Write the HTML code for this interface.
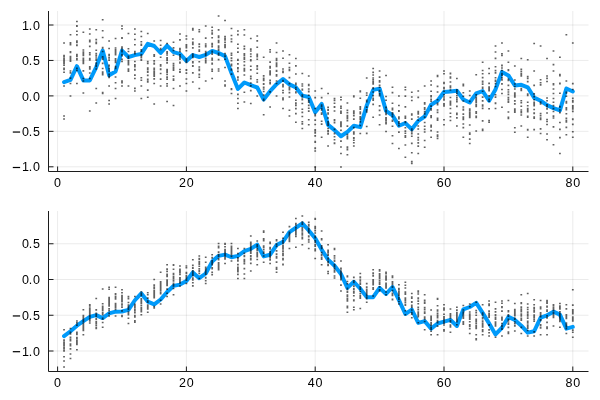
<!DOCTYPE html>
<html><head><meta charset="utf-8"><style>
html,body{margin:0;padding:0;background:#fff;width:600px;height:400px;overflow:hidden}
svg{display:block;will-change:transform}
text{font-family:"Liberation Sans",sans-serif;font-size:12.5px;fill:#000}
</style></head><body>
<svg width="600" height="400" viewBox="0 0 600 400">
<rect width="600" height="400" fill="#fff"/>
<path d="M57.60 11V171.5 M186.40 11V171.5 M315.20 11V171.5 M444.00 11V171.5 M572.80 11V171.5 M48.5 25.00H588.5 M48.5 60.45H588.5 M48.5 95.90H588.5 M48.5 131.35H588.5 M48.5 166.80H588.5" stroke="#000" stroke-opacity="0.1" stroke-width="0.8" fill="none"/>
<polyline points="64.04,82.20 70.48,79.90 76.92,66.20 83.36,80.40 89.80,80.40 96.24,67.10 102.68,50.60 109.12,75.20 115.56,71.50 122.00,50.60 128.44,57.00 134.88,55.10 141.32,53.90 147.76,43.90 154.20,46.00 160.64,53.00 167.08,45.65 173.52,52.10 179.96,53.90 186.40,60.90 192.84,55.10 199.28,57.00 205.72,54.90 212.16,50.90 218.60,53.00 225.04,56.15 231.48,73.10 237.92,88.90 244.36,82.50 250.80,85.20 257.24,87.50 263.68,99.60 270.12,91.20 276.56,84.20 283.00,79.00 289.44,84.40 295.88,87.40 302.32,95.60 308.76,97.00 315.20,112.20 321.64,103.90 328.08,124.90 334.52,130.10 340.96,136.25 347.40,131.90 353.84,125.75 360.28,127.15 366.72,105.60 373.16,89.90 379.60,88.65 386.04,110.90 392.48,115.25 398.92,125.75 405.36,123.10 411.80,129.25 418.24,120.85 424.68,116.50 431.12,104.75 437.56,100.70 444.00,92.00 450.44,91.40 456.88,90.70 463.32,99.50 469.76,102.50 476.20,93.40 482.64,91.10 489.08,100.75 495.52,89.40 501.96,71.90 508.40,75.40 514.84,85.50 521.28,84.80 527.72,87.30 534.16,97.60 540.60,100.75 547.04,105.10 553.48,108.10 559.92,110.40 566.36,88.50 572.80,91.50" fill="none" stroke="#009afa" stroke-width="4" stroke-linejoin="round" stroke-linecap="round"/>
<path d="M63.14 42.20h1.8v1.6h-1.8zM63.14 85.20h1.8v1.6h-1.8zM63.14 115.20h1.8v1.6h-1.8zM63.14 118.20h1.8v1.6h-1.8zM63.14 62.43h1.8v1.6h-1.8zM63.14 64.43h1.8v1.6h-1.8zM63.14 67.62h1.8v1.6h-1.8zM63.14 56.02h1.8v1.6h-1.8zM63.14 59.15h1.8v1.6h-1.8zM63.14 68.64h1.8v1.6h-1.8zM63.14 58.13h1.8v1.6h-1.8zM63.14 61.25h1.8v1.6h-1.8zM63.14 71.45h1.8v1.6h-1.8zM63.14 71.38h1.8v1.6h-1.8zM63.14 57.84h1.8v1.6h-1.8zM63.14 61.29h1.8v1.6h-1.8zM63.14 54.64h1.8v1.6h-1.8zM63.14 60.55h1.8v1.6h-1.8zM63.14 68.03h1.8v1.6h-1.8zM63.14 62.53h1.8v1.6h-1.8zM69.58 33.95h1.8v1.6h-1.8zM69.58 82.70h1.8v1.6h-1.8zM69.58 95.20h1.8v1.6h-1.8zM69.58 70.18h1.8v1.6h-1.8zM69.58 56.72h1.8v1.6h-1.8zM69.58 51.75h1.8v1.6h-1.8zM69.58 58.16h1.8v1.6h-1.8zM69.58 56.87h1.8v1.6h-1.8zM69.58 50.93h1.8v1.6h-1.8zM69.58 56.95h1.8v1.6h-1.8zM69.58 60.45h1.8v1.6h-1.8zM69.58 42.12h1.8v1.6h-1.8zM69.58 82.70h1.8v1.6h-1.8zM69.58 77.33h1.8v1.6h-1.8zM69.58 55.78h1.8v1.6h-1.8zM69.58 82.70h1.8v1.6h-1.8zM69.58 58.92h1.8v1.6h-1.8zM69.58 72.03h1.8v1.6h-1.8zM69.58 43.87h1.8v1.6h-1.8zM76.02 20.70h1.8v1.6h-1.8zM76.02 82.70h1.8v1.6h-1.8zM76.02 54.62h1.8v1.6h-1.8zM76.02 57.79h1.8v1.6h-1.8zM76.02 25.29h1.8v1.6h-1.8zM76.02 67.42h1.8v1.6h-1.8zM76.02 30.43h1.8v1.6h-1.8zM76.02 40.34h1.8v1.6h-1.8zM76.02 53.66h1.8v1.6h-1.8zM76.02 69.57h1.8v1.6h-1.8zM76.02 44.74h1.8v1.6h-1.8zM76.02 25.04h1.8v1.6h-1.8zM76.02 55.47h1.8v1.6h-1.8zM76.02 41.65h1.8v1.6h-1.8zM76.02 58.91h1.8v1.6h-1.8zM76.02 44.33h1.8v1.6h-1.8zM76.02 57.72h1.8v1.6h-1.8zM76.02 33.90h1.8v1.6h-1.8zM82.46 31.45h1.8v1.6h-1.8zM82.46 80.20h1.8v1.6h-1.8zM82.46 92.20h1.8v1.6h-1.8zM82.46 61.90h1.8v1.6h-1.8zM82.46 70.05h1.8v1.6h-1.8zM82.46 31.45h1.8v1.6h-1.8zM82.46 52.47h1.8v1.6h-1.8zM82.46 62.54h1.8v1.6h-1.8zM82.46 57.62h1.8v1.6h-1.8zM82.46 77.64h1.8v1.6h-1.8zM82.46 53.53h1.8v1.6h-1.8zM82.46 60.74h1.8v1.6h-1.8zM82.46 62.61h1.8v1.6h-1.8zM82.46 49.25h1.8v1.6h-1.8zM82.46 54.17h1.8v1.6h-1.8zM82.46 54.17h1.8v1.6h-1.8zM82.46 59.13h1.8v1.6h-1.8zM82.46 54.71h1.8v1.6h-1.8zM82.46 51.27h1.8v1.6h-1.8zM88.90 28.20h1.8v1.6h-1.8zM88.90 77.70h1.8v1.6h-1.8zM88.90 110.20h1.8v1.6h-1.8zM88.90 77.70h1.8v1.6h-1.8zM88.90 52.05h1.8v1.6h-1.8zM88.90 57.85h1.8v1.6h-1.8zM88.90 33.27h1.8v1.6h-1.8zM88.90 40.98h1.8v1.6h-1.8zM88.90 66.07h1.8v1.6h-1.8zM88.90 53.90h1.8v1.6h-1.8zM88.90 39.49h1.8v1.6h-1.8zM88.90 68.26h1.8v1.6h-1.8zM88.90 59.18h1.8v1.6h-1.8zM88.90 45.54h1.8v1.6h-1.8zM88.90 67.33h1.8v1.6h-1.8zM88.90 28.20h1.8v1.6h-1.8zM88.90 66.83h1.8v1.6h-1.8zM88.90 58.99h1.8v1.6h-1.8zM88.90 72.20h1.8v1.6h-1.8zM95.34 28.95h1.8v1.6h-1.8zM95.34 87.70h1.8v1.6h-1.8zM95.34 102.20h1.8v1.6h-1.8zM95.34 52.66h1.8v1.6h-1.8zM95.34 41.41h1.8v1.6h-1.8zM95.34 65.68h1.8v1.6h-1.8zM95.34 62.37h1.8v1.6h-1.8zM95.34 68.24h1.8v1.6h-1.8zM95.34 56.26h1.8v1.6h-1.8zM95.34 64.29h1.8v1.6h-1.8zM95.34 68.20h1.8v1.6h-1.8zM95.34 41.85h1.8v1.6h-1.8zM95.34 54.41h1.8v1.6h-1.8zM95.34 59.44h1.8v1.6h-1.8zM95.34 58.35h1.8v1.6h-1.8zM95.34 49.38h1.8v1.6h-1.8zM95.34 58.55h1.8v1.6h-1.8zM95.34 38.79h1.8v1.6h-1.8zM95.34 42.67h1.8v1.6h-1.8zM101.78 18.95h1.8v1.6h-1.8zM101.78 92.70h1.8v1.6h-1.8zM101.78 72.99h1.8v1.6h-1.8zM101.78 67.63h1.8v1.6h-1.8zM101.78 30.02h1.8v1.6h-1.8zM101.78 73.09h1.8v1.6h-1.8zM101.78 73.33h1.8v1.6h-1.8zM101.78 50.72h1.8v1.6h-1.8zM101.78 57.35h1.8v1.6h-1.8zM101.78 91.84h1.8v1.6h-1.8zM101.78 71.32h1.8v1.6h-1.8zM101.78 58.51h1.8v1.6h-1.8zM101.78 47.15h1.8v1.6h-1.8zM101.78 62.58h1.8v1.6h-1.8zM101.78 46.78h1.8v1.6h-1.8zM101.78 36.63h1.8v1.6h-1.8zM101.78 55.95h1.8v1.6h-1.8zM101.78 73.96h1.8v1.6h-1.8zM108.22 40.20h1.8v1.6h-1.8zM108.22 85.20h1.8v1.6h-1.8zM108.22 99.70h1.8v1.6h-1.8zM108.22 103.20h1.8v1.6h-1.8zM108.22 59.31h1.8v1.6h-1.8zM108.22 53.83h1.8v1.6h-1.8zM108.22 73.54h1.8v1.6h-1.8zM108.22 67.61h1.8v1.6h-1.8zM108.22 67.75h1.8v1.6h-1.8zM108.22 76.75h1.8v1.6h-1.8zM108.22 64.42h1.8v1.6h-1.8zM108.22 68.21h1.8v1.6h-1.8zM108.22 70.24h1.8v1.6h-1.8zM108.22 56.77h1.8v1.6h-1.8zM108.22 59.20h1.8v1.6h-1.8zM108.22 75.55h1.8v1.6h-1.8zM108.22 57.14h1.8v1.6h-1.8zM108.22 47.72h1.8v1.6h-1.8zM108.22 65.19h1.8v1.6h-1.8zM108.22 54.77h1.8v1.6h-1.8zM114.66 37.70h1.8v1.6h-1.8zM114.66 87.70h1.8v1.6h-1.8zM114.66 97.70h1.8v1.6h-1.8zM114.66 52.55h1.8v1.6h-1.8zM114.66 67.72h1.8v1.6h-1.8zM114.66 47.23h1.8v1.6h-1.8zM114.66 61.07h1.8v1.6h-1.8zM114.66 59.63h1.8v1.6h-1.8zM114.66 59.46h1.8v1.6h-1.8zM114.66 49.80h1.8v1.6h-1.8zM114.66 76.23h1.8v1.6h-1.8zM114.66 81.93h1.8v1.6h-1.8zM114.66 67.04h1.8v1.6h-1.8zM114.66 57.97h1.8v1.6h-1.8zM114.66 51.60h1.8v1.6h-1.8zM114.66 53.84h1.8v1.6h-1.8zM114.66 65.63h1.8v1.6h-1.8zM114.66 61.61h1.8v1.6h-1.8zM114.66 49.12h1.8v1.6h-1.8zM121.10 25.20h1.8v1.6h-1.8zM121.10 85.20h1.8v1.6h-1.8zM121.10 54.87h1.8v1.6h-1.8zM121.10 58.67h1.8v1.6h-1.8zM121.10 37.10h1.8v1.6h-1.8zM121.10 81.81h1.8v1.6h-1.8zM121.10 46.24h1.8v1.6h-1.8zM121.10 37.29h1.8v1.6h-1.8zM121.10 58.46h1.8v1.6h-1.8zM121.10 53.76h1.8v1.6h-1.8zM121.10 47.83h1.8v1.6h-1.8zM121.10 49.67h1.8v1.6h-1.8zM121.10 47.98h1.8v1.6h-1.8zM121.10 60.66h1.8v1.6h-1.8zM121.10 37.26h1.8v1.6h-1.8zM121.10 80.17h1.8v1.6h-1.8zM121.10 50.94h1.8v1.6h-1.8zM121.10 27.88h1.8v1.6h-1.8zM127.54 32.70h1.8v1.6h-1.8zM127.54 85.20h1.8v1.6h-1.8zM127.54 68.36h1.8v1.6h-1.8zM127.54 63.78h1.8v1.6h-1.8zM127.54 59.72h1.8v1.6h-1.8zM127.54 55.44h1.8v1.6h-1.8zM127.54 60.86h1.8v1.6h-1.8zM127.54 63.75h1.8v1.6h-1.8zM127.54 62.69h1.8v1.6h-1.8zM127.54 50.67h1.8v1.6h-1.8zM127.54 57.09h1.8v1.6h-1.8zM127.54 59.91h1.8v1.6h-1.8zM127.54 70.30h1.8v1.6h-1.8zM127.54 68.79h1.8v1.6h-1.8zM127.54 61.88h1.8v1.6h-1.8zM127.54 47.92h1.8v1.6h-1.8zM127.54 57.43h1.8v1.6h-1.8zM127.54 62.22h1.8v1.6h-1.8zM133.98 28.20h1.8v1.6h-1.8zM133.98 90.20h1.8v1.6h-1.8zM133.98 65.98h1.8v1.6h-1.8zM133.98 64.10h1.8v1.6h-1.8zM133.98 64.40h1.8v1.6h-1.8zM133.98 77.66h1.8v1.6h-1.8zM133.98 33.46h1.8v1.6h-1.8zM133.98 90.20h1.8v1.6h-1.8zM133.98 53.02h1.8v1.6h-1.8zM133.98 87.61h1.8v1.6h-1.8zM133.98 74.36h1.8v1.6h-1.8zM133.98 69.06h1.8v1.6h-1.8zM133.98 38.63h1.8v1.6h-1.8zM133.98 52.59h1.8v1.6h-1.8zM133.98 44.01h1.8v1.6h-1.8zM133.98 68.82h1.8v1.6h-1.8zM133.98 60.67h1.8v1.6h-1.8zM133.98 50.86h1.8v1.6h-1.8zM140.42 30.70h1.8v1.6h-1.8zM140.42 85.20h1.8v1.6h-1.8zM140.42 97.70h1.8v1.6h-1.8zM140.42 41.01h1.8v1.6h-1.8zM140.42 54.54h1.8v1.6h-1.8zM140.42 59.49h1.8v1.6h-1.8zM140.42 50.34h1.8v1.6h-1.8zM140.42 55.46h1.8v1.6h-1.8zM140.42 59.43h1.8v1.6h-1.8zM140.42 44.31h1.8v1.6h-1.8zM140.42 35.68h1.8v1.6h-1.8zM140.42 43.49h1.8v1.6h-1.8zM140.42 76.96h1.8v1.6h-1.8zM140.42 56.64h1.8v1.6h-1.8zM140.42 55.93h1.8v1.6h-1.8zM140.42 54.05h1.8v1.6h-1.8zM140.42 58.69h1.8v1.6h-1.8zM140.42 48.93h1.8v1.6h-1.8zM140.42 79.44h1.8v1.6h-1.8zM146.86 32.70h1.8v1.6h-1.8zM146.86 96.45h1.8v1.6h-1.8zM146.86 78.39h1.8v1.6h-1.8zM146.86 78.47h1.8v1.6h-1.8zM146.86 71.44h1.8v1.6h-1.8zM146.86 67.13h1.8v1.6h-1.8zM146.86 71.10h1.8v1.6h-1.8zM146.86 62.55h1.8v1.6h-1.8zM146.86 81.10h1.8v1.6h-1.8zM146.86 96.45h1.8v1.6h-1.8zM146.86 60.74h1.8v1.6h-1.8zM146.86 74.46h1.8v1.6h-1.8zM146.86 79.25h1.8v1.6h-1.8zM146.86 74.74h1.8v1.6h-1.8zM146.86 74.55h1.8v1.6h-1.8zM146.86 68.44h1.8v1.6h-1.8zM146.86 68.95h1.8v1.6h-1.8zM146.86 89.29h1.8v1.6h-1.8zM153.30 40.20h1.8v1.6h-1.8zM153.30 82.70h1.8v1.6h-1.8zM153.30 103.20h1.8v1.6h-1.8zM153.30 68.52h1.8v1.6h-1.8zM153.30 72.93h1.8v1.6h-1.8zM153.30 63.13h1.8v1.6h-1.8zM153.30 82.70h1.8v1.6h-1.8zM153.30 82.70h1.8v1.6h-1.8zM153.30 60.10h1.8v1.6h-1.8zM153.30 71.85h1.8v1.6h-1.8zM153.30 53.90h1.8v1.6h-1.8zM153.30 74.57h1.8v1.6h-1.8zM153.30 55.36h1.8v1.6h-1.8zM153.30 70.31h1.8v1.6h-1.8zM153.30 75.29h1.8v1.6h-1.8zM153.30 62.46h1.8v1.6h-1.8zM153.30 60.05h1.8v1.6h-1.8zM153.30 67.46h1.8v1.6h-1.8zM153.30 78.12h1.8v1.6h-1.8zM159.74 39.70h1.8v1.6h-1.8zM159.74 85.20h1.8v1.6h-1.8zM159.74 64.02h1.8v1.6h-1.8zM159.74 48.65h1.8v1.6h-1.8zM159.74 68.57h1.8v1.6h-1.8zM159.74 68.36h1.8v1.6h-1.8zM159.74 65.18h1.8v1.6h-1.8zM159.74 85.20h1.8v1.6h-1.8zM159.74 64.06h1.8v1.6h-1.8zM159.74 72.74h1.8v1.6h-1.8zM159.74 56.48h1.8v1.6h-1.8zM159.74 47.63h1.8v1.6h-1.8zM159.74 47.92h1.8v1.6h-1.8zM159.74 56.47h1.8v1.6h-1.8zM159.74 78.32h1.8v1.6h-1.8zM159.74 44.45h1.8v1.6h-1.8zM159.74 64.53h1.8v1.6h-1.8zM159.74 64.14h1.8v1.6h-1.8zM166.18 42.70h1.8v1.6h-1.8zM166.18 85.20h1.8v1.6h-1.8zM166.18 100.70h1.8v1.6h-1.8zM166.18 82.97h1.8v1.6h-1.8zM166.18 52.47h1.8v1.6h-1.8zM166.18 57.05h1.8v1.6h-1.8zM166.18 71.49h1.8v1.6h-1.8zM166.18 59.74h1.8v1.6h-1.8zM166.18 54.24h1.8v1.6h-1.8zM166.18 69.82h1.8v1.6h-1.8zM166.18 68.87h1.8v1.6h-1.8zM166.18 59.62h1.8v1.6h-1.8zM166.18 76.29h1.8v1.6h-1.8zM166.18 71.71h1.8v1.6h-1.8zM166.18 78.33h1.8v1.6h-1.8zM166.18 73.75h1.8v1.6h-1.8zM166.18 62.07h1.8v1.6h-1.8zM166.18 50.94h1.8v1.6h-1.8zM166.18 57.80h1.8v1.6h-1.8zM172.62 41.45h1.8v1.6h-1.8zM172.62 87.70h1.8v1.6h-1.8zM172.62 104.70h1.8v1.6h-1.8zM172.62 69.18h1.8v1.6h-1.8zM172.62 49.76h1.8v1.6h-1.8zM172.62 47.09h1.8v1.6h-1.8zM172.62 62.75h1.8v1.6h-1.8zM172.62 87.70h1.8v1.6h-1.8zM172.62 68.46h1.8v1.6h-1.8zM172.62 78.20h1.8v1.6h-1.8zM172.62 54.50h1.8v1.6h-1.8zM172.62 69.20h1.8v1.6h-1.8zM172.62 79.30h1.8v1.6h-1.8zM172.62 75.49h1.8v1.6h-1.8zM172.62 66.52h1.8v1.6h-1.8zM172.62 67.63h1.8v1.6h-1.8zM172.62 78.38h1.8v1.6h-1.8zM172.62 64.56h1.8v1.6h-1.8zM172.62 69.42h1.8v1.6h-1.8zM179.06 33.20h1.8v1.6h-1.8zM179.06 85.20h1.8v1.6h-1.8zM179.06 61.76h1.8v1.6h-1.8zM179.06 50.14h1.8v1.6h-1.8zM179.06 57.10h1.8v1.6h-1.8zM179.06 58.37h1.8v1.6h-1.8zM179.06 39.07h1.8v1.6h-1.8zM179.06 50.72h1.8v1.6h-1.8zM179.06 61.61h1.8v1.6h-1.8zM179.06 48.42h1.8v1.6h-1.8zM179.06 70.95h1.8v1.6h-1.8zM179.06 71.46h1.8v1.6h-1.8zM179.06 55.67h1.8v1.6h-1.8zM179.06 68.73h1.8v1.6h-1.8zM179.06 62.27h1.8v1.6h-1.8zM179.06 71.19h1.8v1.6h-1.8zM179.06 54.02h1.8v1.6h-1.8zM179.06 47.78h1.8v1.6h-1.8zM185.50 35.20h1.8v1.6h-1.8zM185.50 90.20h1.8v1.6h-1.8zM185.50 49.90h1.8v1.6h-1.8zM185.50 45.89h1.8v1.6h-1.8zM185.50 69.00h1.8v1.6h-1.8zM185.50 46.88h1.8v1.6h-1.8zM185.50 78.14h1.8v1.6h-1.8zM185.50 61.76h1.8v1.6h-1.8zM185.50 44.03h1.8v1.6h-1.8zM185.50 58.26h1.8v1.6h-1.8zM185.50 82.75h1.8v1.6h-1.8zM185.50 59.05h1.8v1.6h-1.8zM185.50 69.37h1.8v1.6h-1.8zM185.50 58.86h1.8v1.6h-1.8zM185.50 44.68h1.8v1.6h-1.8zM185.50 72.31h1.8v1.6h-1.8zM185.50 60.03h1.8v1.6h-1.8zM185.50 38.19h1.8v1.6h-1.8zM191.94 27.70h1.8v1.6h-1.8zM191.94 81.20h1.8v1.6h-1.8zM191.94 53.31h1.8v1.6h-1.8zM191.94 65.47h1.8v1.6h-1.8zM191.94 43.60h1.8v1.6h-1.8zM191.94 61.08h1.8v1.6h-1.8zM191.94 65.02h1.8v1.6h-1.8zM191.94 61.41h1.8v1.6h-1.8zM191.94 41.38h1.8v1.6h-1.8zM191.94 38.15h1.8v1.6h-1.8zM191.94 56.69h1.8v1.6h-1.8zM191.94 72.04h1.8v1.6h-1.8zM191.94 54.50h1.8v1.6h-1.8zM191.94 47.04h1.8v1.6h-1.8zM191.94 61.94h1.8v1.6h-1.8zM191.94 55.13h1.8v1.6h-1.8zM191.94 42.28h1.8v1.6h-1.8zM191.94 29.04h1.8v1.6h-1.8zM198.38 28.95h1.8v1.6h-1.8zM198.38 87.70h1.8v1.6h-1.8zM198.38 49.14h1.8v1.6h-1.8zM198.38 66.20h1.8v1.6h-1.8zM198.38 49.82h1.8v1.6h-1.8zM198.38 49.58h1.8v1.6h-1.8zM198.38 68.50h1.8v1.6h-1.8zM198.38 60.88h1.8v1.6h-1.8zM198.38 45.83h1.8v1.6h-1.8zM198.38 49.19h1.8v1.6h-1.8zM198.38 50.34h1.8v1.6h-1.8zM198.38 69.77h1.8v1.6h-1.8zM198.38 73.88h1.8v1.6h-1.8zM198.38 76.45h1.8v1.6h-1.8zM198.38 43.28h1.8v1.6h-1.8zM198.38 73.55h1.8v1.6h-1.8zM198.38 30.98h1.8v1.6h-1.8zM198.38 45.92h1.8v1.6h-1.8zM204.82 25.20h1.8v1.6h-1.8zM204.82 80.20h1.8v1.6h-1.8zM204.82 54.71h1.8v1.6h-1.8zM204.82 46.02h1.8v1.6h-1.8zM204.82 50.83h1.8v1.6h-1.8zM204.82 53.29h1.8v1.6h-1.8zM204.82 53.00h1.8v1.6h-1.8zM204.82 43.22h1.8v1.6h-1.8zM204.82 61.96h1.8v1.6h-1.8zM204.82 51.33h1.8v1.6h-1.8zM204.82 37.49h1.8v1.6h-1.8zM204.82 51.91h1.8v1.6h-1.8zM204.82 60.92h1.8v1.6h-1.8zM204.82 37.13h1.8v1.6h-1.8zM204.82 61.13h1.8v1.6h-1.8zM204.82 44.89h1.8v1.6h-1.8zM204.82 59.57h1.8v1.6h-1.8zM204.82 57.53h1.8v1.6h-1.8zM211.26 26.45h1.8v1.6h-1.8zM211.26 77.70h1.8v1.6h-1.8zM211.26 70.40h1.8v1.6h-1.8zM211.26 57.56h1.8v1.6h-1.8zM211.26 44.08h1.8v1.6h-1.8zM211.26 33.25h1.8v1.6h-1.8zM211.26 53.29h1.8v1.6h-1.8zM211.26 45.88h1.8v1.6h-1.8zM211.26 68.54h1.8v1.6h-1.8zM211.26 59.10h1.8v1.6h-1.8zM211.26 63.14h1.8v1.6h-1.8zM211.26 52.15h1.8v1.6h-1.8zM211.26 36.96h1.8v1.6h-1.8zM211.26 42.79h1.8v1.6h-1.8zM211.26 29.79h1.8v1.6h-1.8zM211.26 32.28h1.8v1.6h-1.8zM211.26 62.46h1.8v1.6h-1.8zM211.26 50.40h1.8v1.6h-1.8zM217.70 15.20h1.8v1.6h-1.8zM217.70 70.20h1.8v1.6h-1.8zM217.70 41.62h1.8v1.6h-1.8zM217.70 45.20h1.8v1.6h-1.8zM217.70 52.89h1.8v1.6h-1.8zM217.70 52.39h1.8v1.6h-1.8zM217.70 36.66h1.8v1.6h-1.8zM217.70 35.24h1.8v1.6h-1.8zM217.70 58.84h1.8v1.6h-1.8zM217.70 54.34h1.8v1.6h-1.8zM217.70 35.46h1.8v1.6h-1.8zM217.70 29.08h1.8v1.6h-1.8zM217.70 48.19h1.8v1.6h-1.8zM217.70 49.42h1.8v1.6h-1.8zM217.70 39.79h1.8v1.6h-1.8zM217.70 68.17h1.8v1.6h-1.8zM217.70 46.34h1.8v1.6h-1.8zM217.70 40.88h1.8v1.6h-1.8zM224.14 19.70h1.8v1.6h-1.8zM224.14 85.20h1.8v1.6h-1.8zM224.14 84.21h1.8v1.6h-1.8zM224.14 39.12h1.8v1.6h-1.8zM224.14 55.47h1.8v1.6h-1.8zM224.14 41.49h1.8v1.6h-1.8zM224.14 80.20h1.8v1.6h-1.8zM224.14 46.61h1.8v1.6h-1.8zM224.14 55.15h1.8v1.6h-1.8zM224.14 55.68h1.8v1.6h-1.8zM224.14 37.66h1.8v1.6h-1.8zM224.14 66.69h1.8v1.6h-1.8zM224.14 85.20h1.8v1.6h-1.8zM224.14 58.43h1.8v1.6h-1.8zM224.14 43.68h1.8v1.6h-1.8zM224.14 35.81h1.8v1.6h-1.8zM224.14 45.12h1.8v1.6h-1.8zM224.14 52.82h1.8v1.6h-1.8zM230.58 27.70h1.8v1.6h-1.8zM230.58 92.70h1.8v1.6h-1.8zM230.58 59.84h1.8v1.6h-1.8zM230.58 34.74h1.8v1.6h-1.8zM230.58 87.99h1.8v1.6h-1.8zM230.58 64.14h1.8v1.6h-1.8zM230.58 38.26h1.8v1.6h-1.8zM230.58 88.74h1.8v1.6h-1.8zM230.58 54.36h1.8v1.6h-1.8zM230.58 69.14h1.8v1.6h-1.8zM230.58 64.84h1.8v1.6h-1.8zM230.58 73.29h1.8v1.6h-1.8zM230.58 68.52h1.8v1.6h-1.8zM230.58 64.16h1.8v1.6h-1.8zM230.58 40.87h1.8v1.6h-1.8zM230.58 63.57h1.8v1.6h-1.8zM230.58 52.50h1.8v1.6h-1.8zM230.58 57.29h1.8v1.6h-1.8zM237.02 30.20h1.8v1.6h-1.8zM237.02 107.70h1.8v1.6h-1.8zM237.02 79.22h1.8v1.6h-1.8zM237.02 70.55h1.8v1.6h-1.8zM237.02 77.01h1.8v1.6h-1.8zM237.02 63.05h1.8v1.6h-1.8zM237.02 59.44h1.8v1.6h-1.8zM237.02 47.46h1.8v1.6h-1.8zM237.02 33.87h1.8v1.6h-1.8zM237.02 43.44h1.8v1.6h-1.8zM237.02 67.93h1.8v1.6h-1.8zM237.02 97.67h1.8v1.6h-1.8zM237.02 51.36h1.8v1.6h-1.8zM237.02 67.00h1.8v1.6h-1.8zM237.02 58.86h1.8v1.6h-1.8zM237.02 76.17h1.8v1.6h-1.8zM237.02 102.49h1.8v1.6h-1.8zM237.02 93.59h1.8v1.6h-1.8zM243.46 28.95h1.8v1.6h-1.8zM243.46 101.20h1.8v1.6h-1.8zM243.46 58.40h1.8v1.6h-1.8zM243.46 56.97h1.8v1.6h-1.8zM243.46 68.68h1.8v1.6h-1.8zM243.46 54.69h1.8v1.6h-1.8zM243.46 53.10h1.8v1.6h-1.8zM243.46 45.60h1.8v1.6h-1.8zM243.46 70.21h1.8v1.6h-1.8zM243.46 48.10h1.8v1.6h-1.8zM243.46 91.41h1.8v1.6h-1.8zM243.46 57.46h1.8v1.6h-1.8zM243.46 56.78h1.8v1.6h-1.8zM243.46 67.82h1.8v1.6h-1.8zM243.46 64.61h1.8v1.6h-1.8zM243.46 74.23h1.8v1.6h-1.8zM243.46 34.20h1.8v1.6h-1.8zM243.46 60.95h1.8v1.6h-1.8zM249.90 37.70h1.8v1.6h-1.8zM249.90 102.70h1.8v1.6h-1.8zM249.90 69.12h1.8v1.6h-1.8zM249.90 48.19h1.8v1.6h-1.8zM249.90 58.99h1.8v1.6h-1.8zM249.90 75.75h1.8v1.6h-1.8zM249.90 77.87h1.8v1.6h-1.8zM249.90 48.43h1.8v1.6h-1.8zM249.90 59.98h1.8v1.6h-1.8zM249.90 53.26h1.8v1.6h-1.8zM249.90 75.41h1.8v1.6h-1.8zM249.90 50.23h1.8v1.6h-1.8zM249.90 68.95h1.8v1.6h-1.8zM249.90 85.11h1.8v1.6h-1.8zM249.90 65.49h1.8v1.6h-1.8zM249.90 82.16h1.8v1.6h-1.8zM249.90 89.80h1.8v1.6h-1.8zM249.90 55.66h1.8v1.6h-1.8zM256.34 35.20h1.8v1.6h-1.8zM256.34 95.20h1.8v1.6h-1.8zM256.34 53.38h1.8v1.6h-1.8zM256.34 54.96h1.8v1.6h-1.8zM256.34 58.49h1.8v1.6h-1.8zM256.34 65.82h1.8v1.6h-1.8zM256.34 46.42h1.8v1.6h-1.8zM256.34 68.23h1.8v1.6h-1.8zM256.34 55.19h1.8v1.6h-1.8zM256.34 78.93h1.8v1.6h-1.8zM256.34 95.20h1.8v1.6h-1.8zM256.34 65.06h1.8v1.6h-1.8zM256.34 95.20h1.8v1.6h-1.8zM256.34 81.26h1.8v1.6h-1.8zM256.34 72.41h1.8v1.6h-1.8zM256.34 40.08h1.8v1.6h-1.8zM256.34 68.49h1.8v1.6h-1.8zM256.34 56.00h1.8v1.6h-1.8zM262.78 56.45h1.8v1.6h-1.8zM262.78 113.95h1.8v1.6h-1.8zM262.78 98.45h1.8v1.6h-1.8zM262.78 99.67h1.8v1.6h-1.8zM262.78 88.18h1.8v1.6h-1.8zM262.78 79.60h1.8v1.6h-1.8zM262.78 113.95h1.8v1.6h-1.8zM262.78 88.19h1.8v1.6h-1.8zM262.78 94.20h1.8v1.6h-1.8zM262.78 79.49h1.8v1.6h-1.8zM262.78 90.69h1.8v1.6h-1.8zM262.78 75.06h1.8v1.6h-1.8zM262.78 86.40h1.8v1.6h-1.8zM262.78 83.34h1.8v1.6h-1.8zM262.78 77.61h1.8v1.6h-1.8zM262.78 79.05h1.8v1.6h-1.8zM262.78 83.17h1.8v1.6h-1.8zM262.78 82.88h1.8v1.6h-1.8zM269.22 48.95h1.8v1.6h-1.8zM269.22 106.20h1.8v1.6h-1.8zM269.22 73.81h1.8v1.6h-1.8zM269.22 72.58h1.8v1.6h-1.8zM269.22 72.71h1.8v1.6h-1.8zM269.22 79.38h1.8v1.6h-1.8zM269.22 71.67h1.8v1.6h-1.8zM269.22 82.88h1.8v1.6h-1.8zM269.22 70.35h1.8v1.6h-1.8zM269.22 91.12h1.8v1.6h-1.8zM269.22 67.13h1.8v1.6h-1.8zM269.22 61.32h1.8v1.6h-1.8zM269.22 51.19h1.8v1.6h-1.8zM269.22 73.64h1.8v1.6h-1.8zM269.22 71.13h1.8v1.6h-1.8zM269.22 81.62h1.8v1.6h-1.8zM269.22 72.51h1.8v1.6h-1.8zM269.22 65.81h1.8v1.6h-1.8zM275.66 42.20h1.8v1.6h-1.8zM275.66 95.20h1.8v1.6h-1.8zM275.66 80.21h1.8v1.6h-1.8zM275.66 63.70h1.8v1.6h-1.8zM275.66 80.24h1.8v1.6h-1.8zM275.66 69.71h1.8v1.6h-1.8zM275.66 82.63h1.8v1.6h-1.8zM275.66 65.09h1.8v1.6h-1.8zM275.66 74.04h1.8v1.6h-1.8zM275.66 57.86h1.8v1.6h-1.8zM275.66 64.80h1.8v1.6h-1.8zM275.66 65.54h1.8v1.6h-1.8zM275.66 70.44h1.8v1.6h-1.8zM275.66 74.35h1.8v1.6h-1.8zM275.66 59.57h1.8v1.6h-1.8zM275.66 75.11h1.8v1.6h-1.8zM275.66 51.64h1.8v1.6h-1.8zM275.66 62.21h1.8v1.6h-1.8zM282.10 50.20h1.8v1.6h-1.8zM282.10 107.70h1.8v1.6h-1.8zM282.10 79.63h1.8v1.6h-1.8zM282.10 89.75h1.8v1.6h-1.8zM282.10 85.84h1.8v1.6h-1.8zM282.10 80.02h1.8v1.6h-1.8zM282.10 57.39h1.8v1.6h-1.8zM282.10 98.83h1.8v1.6h-1.8zM282.10 84.25h1.8v1.6h-1.8zM282.10 91.92h1.8v1.6h-1.8zM282.10 97.14h1.8v1.6h-1.8zM282.10 80.42h1.8v1.6h-1.8zM282.10 68.16h1.8v1.6h-1.8zM282.10 84.81h1.8v1.6h-1.8zM282.10 70.54h1.8v1.6h-1.8zM282.10 85.92h1.8v1.6h-1.8zM282.10 71.62h1.8v1.6h-1.8zM282.10 83.73h1.8v1.6h-1.8zM288.54 53.95h1.8v1.6h-1.8zM288.54 115.20h1.8v1.6h-1.8zM288.54 76.67h1.8v1.6h-1.8zM288.54 53.95h1.8v1.6h-1.8zM288.54 96.19h1.8v1.6h-1.8zM288.54 76.87h1.8v1.6h-1.8zM288.54 109.47h1.8v1.6h-1.8zM288.54 86.40h1.8v1.6h-1.8zM288.54 66.80h1.8v1.6h-1.8zM288.54 88.96h1.8v1.6h-1.8zM288.54 69.71h1.8v1.6h-1.8zM288.54 62.46h1.8v1.6h-1.8zM288.54 69.10h1.8v1.6h-1.8zM288.54 82.82h1.8v1.6h-1.8zM288.54 87.47h1.8v1.6h-1.8zM288.54 87.71h1.8v1.6h-1.8zM288.54 88.86h1.8v1.6h-1.8zM288.54 91.86h1.8v1.6h-1.8zM294.98 57.70h1.8v1.6h-1.8zM294.98 121.45h1.8v1.6h-1.8zM294.98 107.87h1.8v1.6h-1.8zM294.98 82.44h1.8v1.6h-1.8zM294.98 102.66h1.8v1.6h-1.8zM294.98 91.85h1.8v1.6h-1.8zM294.98 65.08h1.8v1.6h-1.8zM294.98 104.70h1.8v1.6h-1.8zM294.98 73.24h1.8v1.6h-1.8zM294.98 99.47h1.8v1.6h-1.8zM294.98 88.39h1.8v1.6h-1.8zM294.98 102.93h1.8v1.6h-1.8zM294.98 112.84h1.8v1.6h-1.8zM294.98 102.32h1.8v1.6h-1.8zM294.98 65.02h1.8v1.6h-1.8zM294.98 91.28h1.8v1.6h-1.8zM294.98 83.68h1.8v1.6h-1.8zM294.98 86.70h1.8v1.6h-1.8zM301.42 72.70h1.8v1.6h-1.8zM301.42 127.70h1.8v1.6h-1.8zM301.42 98.84h1.8v1.6h-1.8zM301.42 111.62h1.8v1.6h-1.8zM301.42 102.70h1.8v1.6h-1.8zM301.42 88.38h1.8v1.6h-1.8zM301.42 123.03h1.8v1.6h-1.8zM301.42 95.19h1.8v1.6h-1.8zM301.42 94.33h1.8v1.6h-1.8zM301.42 85.18h1.8v1.6h-1.8zM301.42 95.98h1.8v1.6h-1.8zM301.42 89.06h1.8v1.6h-1.8zM301.42 120.93h1.8v1.6h-1.8zM301.42 115.71h1.8v1.6h-1.8zM301.42 72.70h1.8v1.6h-1.8zM301.42 108.50h1.8v1.6h-1.8zM301.42 98.27h1.8v1.6h-1.8zM301.42 83.19h1.8v1.6h-1.8zM307.86 75.20h1.8v1.6h-1.8zM307.86 123.95h1.8v1.6h-1.8zM307.86 83.73h1.8v1.6h-1.8zM307.86 107.39h1.8v1.6h-1.8zM307.86 100.09h1.8v1.6h-1.8zM307.86 110.40h1.8v1.6h-1.8zM307.86 90.49h1.8v1.6h-1.8zM307.86 119.00h1.8v1.6h-1.8zM307.86 104.56h1.8v1.6h-1.8zM307.86 97.95h1.8v1.6h-1.8zM307.86 110.27h1.8v1.6h-1.8zM307.86 101.24h1.8v1.6h-1.8zM307.86 94.46h1.8v1.6h-1.8zM307.86 88.22h1.8v1.6h-1.8zM307.86 101.50h1.8v1.6h-1.8zM307.86 75.20h1.8v1.6h-1.8zM307.86 90.94h1.8v1.6h-1.8zM307.86 84.71h1.8v1.6h-1.8zM314.30 90.20h1.8v1.6h-1.8zM314.30 150.20h1.8v1.6h-1.8zM314.30 166.20h1.8v1.6h-1.8zM314.30 131.99h1.8v1.6h-1.8zM314.30 135.04h1.8v1.6h-1.8zM314.30 113.65h1.8v1.6h-1.8zM314.30 113.43h1.8v1.6h-1.8zM314.30 141.43h1.8v1.6h-1.8zM314.30 123.69h1.8v1.6h-1.8zM314.30 140.79h1.8v1.6h-1.8zM314.30 119.33h1.8v1.6h-1.8zM314.30 128.99h1.8v1.6h-1.8zM314.30 147.71h1.8v1.6h-1.8zM314.30 114.82h1.8v1.6h-1.8zM314.30 132.09h1.8v1.6h-1.8zM314.30 130.06h1.8v1.6h-1.8zM314.30 96.79h1.8v1.6h-1.8zM314.30 147.16h1.8v1.6h-1.8zM314.30 107.75h1.8v1.6h-1.8zM320.74 87.70h1.8v1.6h-1.8zM320.74 136.45h1.8v1.6h-1.8zM320.74 120.44h1.8v1.6h-1.8zM320.74 112.20h1.8v1.6h-1.8zM320.74 104.76h1.8v1.6h-1.8zM320.74 107.88h1.8v1.6h-1.8zM320.74 123.32h1.8v1.6h-1.8zM320.74 96.82h1.8v1.6h-1.8zM320.74 113.13h1.8v1.6h-1.8zM320.74 87.70h1.8v1.6h-1.8zM320.74 104.23h1.8v1.6h-1.8zM320.74 87.70h1.8v1.6h-1.8zM320.74 105.94h1.8v1.6h-1.8zM320.74 113.39h1.8v1.6h-1.8zM320.74 87.70h1.8v1.6h-1.8zM320.74 109.13h1.8v1.6h-1.8zM320.74 104.36h1.8v1.6h-1.8zM320.74 105.34h1.8v1.6h-1.8zM327.18 92.70h1.8v1.6h-1.8zM327.18 145.20h1.8v1.6h-1.8zM327.18 124.41h1.8v1.6h-1.8zM327.18 122.84h1.8v1.6h-1.8zM327.18 133.08h1.8v1.6h-1.8zM327.18 132.66h1.8v1.6h-1.8zM327.18 112.64h1.8v1.6h-1.8zM327.18 130.71h1.8v1.6h-1.8zM327.18 130.05h1.8v1.6h-1.8zM327.18 117.23h1.8v1.6h-1.8zM327.18 112.35h1.8v1.6h-1.8zM327.18 109.43h1.8v1.6h-1.8zM327.18 109.03h1.8v1.6h-1.8zM327.18 127.63h1.8v1.6h-1.8zM327.18 113.09h1.8v1.6h-1.8zM327.18 121.08h1.8v1.6h-1.8zM327.18 108.93h1.8v1.6h-1.8zM327.18 106.56h1.8v1.6h-1.8zM333.62 97.70h1.8v1.6h-1.8zM333.62 142.70h1.8v1.6h-1.8zM333.62 142.36h1.8v1.6h-1.8zM333.62 138.93h1.8v1.6h-1.8zM333.62 128.76h1.8v1.6h-1.8zM333.62 119.50h1.8v1.6h-1.8zM333.62 110.14h1.8v1.6h-1.8zM333.62 135.92h1.8v1.6h-1.8zM333.62 106.36h1.8v1.6h-1.8zM333.62 119.66h1.8v1.6h-1.8zM333.62 121.82h1.8v1.6h-1.8zM333.62 102.39h1.8v1.6h-1.8zM333.62 119.01h1.8v1.6h-1.8zM333.62 132.52h1.8v1.6h-1.8zM333.62 128.43h1.8v1.6h-1.8zM333.62 99.59h1.8v1.6h-1.8zM333.62 133.01h1.8v1.6h-1.8zM333.62 105.88h1.8v1.6h-1.8zM340.06 96.45h1.8v1.6h-1.8zM340.06 152.70h1.8v1.6h-1.8zM340.06 166.20h1.8v1.6h-1.8zM340.06 122.90h1.8v1.6h-1.8zM340.06 121.99h1.8v1.6h-1.8zM340.06 110.59h1.8v1.6h-1.8zM340.06 140.30h1.8v1.6h-1.8zM340.06 124.79h1.8v1.6h-1.8zM340.06 129.40h1.8v1.6h-1.8zM340.06 105.55h1.8v1.6h-1.8zM340.06 111.82h1.8v1.6h-1.8zM340.06 146.19h1.8v1.6h-1.8zM340.06 124.05h1.8v1.6h-1.8zM340.06 121.33h1.8v1.6h-1.8zM340.06 125.66h1.8v1.6h-1.8zM340.06 112.52h1.8v1.6h-1.8zM340.06 98.99h1.8v1.6h-1.8zM340.06 107.46h1.8v1.6h-1.8zM340.06 122.63h1.8v1.6h-1.8zM346.50 102.20h1.8v1.6h-1.8zM346.50 153.95h1.8v1.6h-1.8zM346.50 137.14h1.8v1.6h-1.8zM346.50 134.01h1.8v1.6h-1.8zM346.50 109.48h1.8v1.6h-1.8zM346.50 115.93h1.8v1.6h-1.8zM346.50 117.57h1.8v1.6h-1.8zM346.50 148.83h1.8v1.6h-1.8zM346.50 114.74h1.8v1.6h-1.8zM346.50 119.82h1.8v1.6h-1.8zM346.50 133.84h1.8v1.6h-1.8zM346.50 146.17h1.8v1.6h-1.8zM346.50 136.47h1.8v1.6h-1.8zM346.50 137.83h1.8v1.6h-1.8zM346.50 146.83h1.8v1.6h-1.8zM346.50 111.86h1.8v1.6h-1.8zM346.50 135.67h1.8v1.6h-1.8zM346.50 125.31h1.8v1.6h-1.8zM352.94 95.20h1.8v1.6h-1.8zM352.94 145.20h1.8v1.6h-1.8zM352.94 131.25h1.8v1.6h-1.8zM352.94 112.64h1.8v1.6h-1.8zM352.94 133.18h1.8v1.6h-1.8zM352.94 141.97h1.8v1.6h-1.8zM352.94 145.20h1.8v1.6h-1.8zM352.94 110.35h1.8v1.6h-1.8zM352.94 114.85h1.8v1.6h-1.8zM352.94 126.80h1.8v1.6h-1.8zM352.94 136.94h1.8v1.6h-1.8zM352.94 111.63h1.8v1.6h-1.8zM352.94 137.38h1.8v1.6h-1.8zM352.94 111.52h1.8v1.6h-1.8zM352.94 139.38h1.8v1.6h-1.8zM352.94 118.34h1.8v1.6h-1.8zM352.94 131.66h1.8v1.6h-1.8zM352.94 95.81h1.8v1.6h-1.8zM359.38 90.20h1.8v1.6h-1.8zM359.38 132.70h1.8v1.6h-1.8zM359.38 90.90h1.8v1.6h-1.8zM359.38 121.16h1.8v1.6h-1.8zM359.38 90.20h1.8v1.6h-1.8zM359.38 124.75h1.8v1.6h-1.8zM359.38 97.47h1.8v1.6h-1.8zM359.38 107.66h1.8v1.6h-1.8zM359.38 120.65h1.8v1.6h-1.8zM359.38 112.02h1.8v1.6h-1.8zM359.38 111.20h1.8v1.6h-1.8zM359.38 113.00h1.8v1.6h-1.8zM359.38 108.44h1.8v1.6h-1.8zM359.38 118.65h1.8v1.6h-1.8zM359.38 117.48h1.8v1.6h-1.8zM359.38 116.36h1.8v1.6h-1.8zM359.38 115.96h1.8v1.6h-1.8zM359.38 106.03h1.8v1.6h-1.8zM365.82 77.20h1.8v1.6h-1.8zM365.82 132.70h1.8v1.6h-1.8zM365.82 92.25h1.8v1.6h-1.8zM365.82 77.20h1.8v1.6h-1.8zM365.82 125.74h1.8v1.6h-1.8zM365.82 106.14h1.8v1.6h-1.8zM365.82 110.56h1.8v1.6h-1.8zM365.82 111.27h1.8v1.6h-1.8zM365.82 94.43h1.8v1.6h-1.8zM365.82 132.56h1.8v1.6h-1.8zM365.82 109.08h1.8v1.6h-1.8zM365.82 100.88h1.8v1.6h-1.8zM365.82 106.34h1.8v1.6h-1.8zM365.82 99.57h1.8v1.6h-1.8zM365.82 77.20h1.8v1.6h-1.8zM365.82 132.70h1.8v1.6h-1.8zM365.82 109.58h1.8v1.6h-1.8zM365.82 100.58h1.8v1.6h-1.8zM372.26 67.70h1.8v1.6h-1.8zM372.26 116.45h1.8v1.6h-1.8zM372.26 81.01h1.8v1.6h-1.8zM372.26 87.11h1.8v1.6h-1.8zM372.26 81.66h1.8v1.6h-1.8zM372.26 71.61h1.8v1.6h-1.8zM372.26 67.70h1.8v1.6h-1.8zM372.26 82.53h1.8v1.6h-1.8zM372.26 97.59h1.8v1.6h-1.8zM372.26 87.87h1.8v1.6h-1.8zM372.26 99.30h1.8v1.6h-1.8zM372.26 94.78h1.8v1.6h-1.8zM372.26 74.21h1.8v1.6h-1.8zM372.26 91.19h1.8v1.6h-1.8zM372.26 103.54h1.8v1.6h-1.8zM372.26 77.16h1.8v1.6h-1.8zM372.26 83.18h1.8v1.6h-1.8zM372.26 79.10h1.8v1.6h-1.8zM378.70 70.20h1.8v1.6h-1.8zM378.70 123.95h1.8v1.6h-1.8zM378.70 89.74h1.8v1.6h-1.8zM378.70 86.42h1.8v1.6h-1.8zM378.70 84.39h1.8v1.6h-1.8zM378.70 76.29h1.8v1.6h-1.8zM378.70 109.71h1.8v1.6h-1.8zM378.70 81.09h1.8v1.6h-1.8zM378.70 94.84h1.8v1.6h-1.8zM378.70 92.65h1.8v1.6h-1.8zM378.70 90.43h1.8v1.6h-1.8zM378.70 109.53h1.8v1.6h-1.8zM378.70 94.09h1.8v1.6h-1.8zM378.70 105.04h1.8v1.6h-1.8zM378.70 79.98h1.8v1.6h-1.8zM378.70 114.24h1.8v1.6h-1.8zM378.70 93.84h1.8v1.6h-1.8zM378.70 123.95h1.8v1.6h-1.8zM385.14 95.70h1.8v1.6h-1.8zM385.14 130.70h1.8v1.6h-1.8zM385.14 74.70h1.8v1.6h-1.8zM385.14 121.92h1.8v1.6h-1.8zM385.14 113.55h1.8v1.6h-1.8zM385.14 110.69h1.8v1.6h-1.8zM385.14 99.45h1.8v1.6h-1.8zM385.14 117.31h1.8v1.6h-1.8zM385.14 113.51h1.8v1.6h-1.8zM385.14 122.91h1.8v1.6h-1.8zM385.14 117.83h1.8v1.6h-1.8zM385.14 120.13h1.8v1.6h-1.8zM385.14 117.89h1.8v1.6h-1.8zM385.14 112.42h1.8v1.6h-1.8zM385.14 117.00h1.8v1.6h-1.8zM385.14 106.91h1.8v1.6h-1.8zM385.14 119.51h1.8v1.6h-1.8zM385.14 106.44h1.8v1.6h-1.8zM385.14 109.57h1.8v1.6h-1.8zM391.58 86.45h1.8v1.6h-1.8zM391.58 142.70h1.8v1.6h-1.8zM391.58 125.43h1.8v1.6h-1.8zM391.58 119.59h1.8v1.6h-1.8zM391.58 114.18h1.8v1.6h-1.8zM391.58 113.51h1.8v1.6h-1.8zM391.58 111.94h1.8v1.6h-1.8zM391.58 114.21h1.8v1.6h-1.8zM391.58 120.40h1.8v1.6h-1.8zM391.58 107.90h1.8v1.6h-1.8zM391.58 108.84h1.8v1.6h-1.8zM391.58 113.35h1.8v1.6h-1.8zM391.58 91.85h1.8v1.6h-1.8zM391.58 107.62h1.8v1.6h-1.8zM391.58 134.90h1.8v1.6h-1.8zM391.58 102.48h1.8v1.6h-1.8zM391.58 115.89h1.8v1.6h-1.8zM391.58 113.54h1.8v1.6h-1.8zM398.02 95.20h1.8v1.6h-1.8zM398.02 147.70h1.8v1.6h-1.8zM398.02 122.81h1.8v1.6h-1.8zM398.02 117.73h1.8v1.6h-1.8zM398.02 147.70h1.8v1.6h-1.8zM398.02 95.20h1.8v1.6h-1.8zM398.02 118.00h1.8v1.6h-1.8zM398.02 104.73h1.8v1.6h-1.8zM398.02 120.89h1.8v1.6h-1.8zM398.02 116.15h1.8v1.6h-1.8zM398.02 124.95h1.8v1.6h-1.8zM398.02 117.40h1.8v1.6h-1.8zM398.02 122.15h1.8v1.6h-1.8zM398.02 131.34h1.8v1.6h-1.8zM398.02 116.67h1.8v1.6h-1.8zM398.02 109.90h1.8v1.6h-1.8zM398.02 110.32h1.8v1.6h-1.8zM398.02 131.15h1.8v1.6h-1.8zM404.46 86.45h1.8v1.6h-1.8zM404.46 144.20h1.8v1.6h-1.8zM404.46 156.45h1.8v1.6h-1.8zM404.46 115.87h1.8v1.6h-1.8zM404.46 89.01h1.8v1.6h-1.8zM404.46 121.64h1.8v1.6h-1.8zM404.46 106.05h1.8v1.6h-1.8zM404.46 121.12h1.8v1.6h-1.8zM404.46 117.30h1.8v1.6h-1.8zM404.46 132.40h1.8v1.6h-1.8zM404.46 130.37h1.8v1.6h-1.8zM404.46 135.27h1.8v1.6h-1.8zM404.46 127.00h1.8v1.6h-1.8zM404.46 136.28h1.8v1.6h-1.8zM404.46 115.56h1.8v1.6h-1.8zM404.46 115.66h1.8v1.6h-1.8zM404.46 135.11h1.8v1.6h-1.8zM404.46 116.62h1.8v1.6h-1.8zM404.46 95.32h1.8v1.6h-1.8zM410.90 91.45h1.8v1.6h-1.8zM410.90 162.70h1.8v1.6h-1.8zM410.90 130.18h1.8v1.6h-1.8zM410.90 128.63h1.8v1.6h-1.8zM410.90 99.70h1.8v1.6h-1.8zM410.90 151.93h1.8v1.6h-1.8zM410.90 114.16h1.8v1.6h-1.8zM410.90 130.01h1.8v1.6h-1.8zM410.90 96.17h1.8v1.6h-1.8zM410.90 132.84h1.8v1.6h-1.8zM410.90 129.39h1.8v1.6h-1.8zM410.90 135.47h1.8v1.6h-1.8zM410.90 142.61h1.8v1.6h-1.8zM410.90 118.34h1.8v1.6h-1.8zM410.90 113.34h1.8v1.6h-1.8zM410.90 132.14h1.8v1.6h-1.8zM410.90 128.25h1.8v1.6h-1.8zM410.90 160.81h1.8v1.6h-1.8zM417.34 90.20h1.8v1.6h-1.8zM417.34 152.70h1.8v1.6h-1.8zM417.34 125.14h1.8v1.6h-1.8zM417.34 110.67h1.8v1.6h-1.8zM417.34 116.23h1.8v1.6h-1.8zM417.34 90.20h1.8v1.6h-1.8zM417.34 90.20h1.8v1.6h-1.8zM417.34 142.15h1.8v1.6h-1.8zM417.34 145.33h1.8v1.6h-1.8zM417.34 136.78h1.8v1.6h-1.8zM417.34 128.17h1.8v1.6h-1.8zM417.34 112.30h1.8v1.6h-1.8zM417.34 119.46h1.8v1.6h-1.8zM417.34 133.14h1.8v1.6h-1.8zM417.34 139.21h1.8v1.6h-1.8zM417.34 142.01h1.8v1.6h-1.8zM417.34 113.10h1.8v1.6h-1.8zM417.34 96.61h1.8v1.6h-1.8zM423.78 85.20h1.8v1.6h-1.8zM423.78 146.45h1.8v1.6h-1.8zM423.78 108.71h1.8v1.6h-1.8zM423.78 106.98h1.8v1.6h-1.8zM423.78 125.45h1.8v1.6h-1.8zM423.78 121.70h1.8v1.6h-1.8zM423.78 116.52h1.8v1.6h-1.8zM423.78 113.00h1.8v1.6h-1.8zM423.78 103.26h1.8v1.6h-1.8zM423.78 113.15h1.8v1.6h-1.8zM423.78 112.67h1.8v1.6h-1.8zM423.78 128.61h1.8v1.6h-1.8zM423.78 108.38h1.8v1.6h-1.8zM423.78 110.99h1.8v1.6h-1.8zM423.78 131.18h1.8v1.6h-1.8zM423.78 139.70h1.8v1.6h-1.8zM423.78 116.21h1.8v1.6h-1.8zM423.78 102.06h1.8v1.6h-1.8zM430.22 80.20h1.8v1.6h-1.8zM430.22 136.45h1.8v1.6h-1.8zM430.22 108.46h1.8v1.6h-1.8zM430.22 126.08h1.8v1.6h-1.8zM430.22 129.83h1.8v1.6h-1.8zM430.22 98.61h1.8v1.6h-1.8zM430.22 90.52h1.8v1.6h-1.8zM430.22 114.98h1.8v1.6h-1.8zM430.22 94.98h1.8v1.6h-1.8zM430.22 124.61h1.8v1.6h-1.8zM430.22 105.20h1.8v1.6h-1.8zM430.22 107.97h1.8v1.6h-1.8zM430.22 95.85h1.8v1.6h-1.8zM430.22 84.23h1.8v1.6h-1.8zM430.22 100.45h1.8v1.6h-1.8zM430.22 109.08h1.8v1.6h-1.8zM430.22 105.44h1.8v1.6h-1.8zM430.22 116.59h1.8v1.6h-1.8zM436.66 74.70h1.8v1.6h-1.8zM436.66 137.70h1.8v1.6h-1.8zM436.66 119.30h1.8v1.6h-1.8zM436.66 85.54h1.8v1.6h-1.8zM436.66 102.47h1.8v1.6h-1.8zM436.66 118.37h1.8v1.6h-1.8zM436.66 117.53h1.8v1.6h-1.8zM436.66 117.72h1.8v1.6h-1.8zM436.66 131.14h1.8v1.6h-1.8zM436.66 102.42h1.8v1.6h-1.8zM436.66 111.62h1.8v1.6h-1.8zM436.66 103.88h1.8v1.6h-1.8zM436.66 135.77h1.8v1.6h-1.8zM436.66 91.25h1.8v1.6h-1.8zM436.66 109.13h1.8v1.6h-1.8zM436.66 98.91h1.8v1.6h-1.8zM436.66 134.37h1.8v1.6h-1.8zM436.66 75.77h1.8v1.6h-1.8zM443.10 70.20h1.8v1.6h-1.8zM443.10 123.95h1.8v1.6h-1.8zM443.10 96.14h1.8v1.6h-1.8zM443.10 81.72h1.8v1.6h-1.8zM443.10 82.59h1.8v1.6h-1.8zM443.10 118.99h1.8v1.6h-1.8zM443.10 87.87h1.8v1.6h-1.8zM443.10 90.52h1.8v1.6h-1.8zM443.10 99.16h1.8v1.6h-1.8zM443.10 98.26h1.8v1.6h-1.8zM443.10 93.89h1.8v1.6h-1.8zM443.10 86.84h1.8v1.6h-1.8zM443.10 104.47h1.8v1.6h-1.8zM443.10 105.17h1.8v1.6h-1.8zM443.10 72.98h1.8v1.6h-1.8zM443.10 102.93h1.8v1.6h-1.8zM443.10 90.44h1.8v1.6h-1.8zM443.10 98.16h1.8v1.6h-1.8zM449.54 72.45h1.8v1.6h-1.8zM449.54 119.70h1.8v1.6h-1.8zM449.54 104.05h1.8v1.6h-1.8zM449.54 81.23h1.8v1.6h-1.8zM449.54 73.01h1.8v1.6h-1.8zM449.54 89.22h1.8v1.6h-1.8zM449.54 86.86h1.8v1.6h-1.8zM449.54 102.32h1.8v1.6h-1.8zM449.54 112.41h1.8v1.6h-1.8zM449.54 101.93h1.8v1.6h-1.8zM449.54 76.37h1.8v1.6h-1.8zM449.54 77.16h1.8v1.6h-1.8zM449.54 107.67h1.8v1.6h-1.8zM449.54 96.65h1.8v1.6h-1.8zM449.54 85.31h1.8v1.6h-1.8zM449.54 100.54h1.8v1.6h-1.8zM449.54 115.97h1.8v1.6h-1.8zM449.54 101.63h1.8v1.6h-1.8zM455.98 77.70h1.8v1.6h-1.8zM455.98 125.20h1.8v1.6h-1.8zM455.98 117.03h1.8v1.6h-1.8zM455.98 105.76h1.8v1.6h-1.8zM455.98 96.90h1.8v1.6h-1.8zM455.98 112.43h1.8v1.6h-1.8zM455.98 105.46h1.8v1.6h-1.8zM455.98 94.94h1.8v1.6h-1.8zM455.98 92.56h1.8v1.6h-1.8zM455.98 100.81h1.8v1.6h-1.8zM455.98 90.53h1.8v1.6h-1.8zM455.98 92.41h1.8v1.6h-1.8zM455.98 98.94h1.8v1.6h-1.8zM455.98 97.05h1.8v1.6h-1.8zM455.98 90.25h1.8v1.6h-1.8zM455.98 89.12h1.8v1.6h-1.8zM455.98 125.20h1.8v1.6h-1.8zM455.98 113.77h1.8v1.6h-1.8zM462.42 83.45h1.8v1.6h-1.8zM462.42 136.45h1.8v1.6h-1.8zM462.42 123.21h1.8v1.6h-1.8zM462.42 91.89h1.8v1.6h-1.8zM462.42 113.32h1.8v1.6h-1.8zM462.42 95.48h1.8v1.6h-1.8zM462.42 116.26h1.8v1.6h-1.8zM462.42 106.24h1.8v1.6h-1.8zM462.42 108.59h1.8v1.6h-1.8zM462.42 83.45h1.8v1.6h-1.8zM462.42 126.80h1.8v1.6h-1.8zM462.42 116.96h1.8v1.6h-1.8zM462.42 116.83h1.8v1.6h-1.8zM462.42 108.78h1.8v1.6h-1.8zM462.42 84.83h1.8v1.6h-1.8zM462.42 100.16h1.8v1.6h-1.8zM462.42 109.20h1.8v1.6h-1.8zM462.42 118.58h1.8v1.6h-1.8zM468.86 90.20h1.8v1.6h-1.8zM468.86 142.70h1.8v1.6h-1.8zM468.86 111.97h1.8v1.6h-1.8zM468.86 94.68h1.8v1.6h-1.8zM468.86 133.42h1.8v1.6h-1.8zM468.86 109.94h1.8v1.6h-1.8zM468.86 138.33h1.8v1.6h-1.8zM468.86 124.15h1.8v1.6h-1.8zM468.86 112.84h1.8v1.6h-1.8zM468.86 132.14h1.8v1.6h-1.8zM468.86 110.16h1.8v1.6h-1.8zM468.86 90.20h1.8v1.6h-1.8zM468.86 109.82h1.8v1.6h-1.8zM468.86 114.23h1.8v1.6h-1.8zM468.86 100.59h1.8v1.6h-1.8zM468.86 115.28h1.8v1.6h-1.8zM468.86 116.56h1.8v1.6h-1.8zM468.86 108.31h1.8v1.6h-1.8zM475.30 73.95h1.8v1.6h-1.8zM475.30 130.20h1.8v1.6h-1.8zM475.30 98.02h1.8v1.6h-1.8zM475.30 100.71h1.8v1.6h-1.8zM475.30 104.93h1.8v1.6h-1.8zM475.30 101.81h1.8v1.6h-1.8zM475.30 94.05h1.8v1.6h-1.8zM475.30 99.96h1.8v1.6h-1.8zM475.30 99.97h1.8v1.6h-1.8zM475.30 115.50h1.8v1.6h-1.8zM475.30 101.87h1.8v1.6h-1.8zM475.30 112.49h1.8v1.6h-1.8zM475.30 96.40h1.8v1.6h-1.8zM475.30 116.77h1.8v1.6h-1.8zM475.30 110.91h1.8v1.6h-1.8zM475.30 99.60h1.8v1.6h-1.8zM475.30 103.93h1.8v1.6h-1.8zM475.30 105.58h1.8v1.6h-1.8zM481.74 61.45h1.8v1.6h-1.8zM481.74 129.70h1.8v1.6h-1.8zM481.74 120.08h1.8v1.6h-1.8zM481.74 81.21h1.8v1.6h-1.8zM481.74 100.06h1.8v1.6h-1.8zM481.74 87.49h1.8v1.6h-1.8zM481.74 72.95h1.8v1.6h-1.8zM481.74 104.30h1.8v1.6h-1.8zM481.74 69.70h1.8v1.6h-1.8zM481.74 90.41h1.8v1.6h-1.8zM481.74 107.62h1.8v1.6h-1.8zM481.74 128.51h1.8v1.6h-1.8zM481.74 76.85h1.8v1.6h-1.8zM481.74 83.36h1.8v1.6h-1.8zM481.74 80.50h1.8v1.6h-1.8zM481.74 86.53h1.8v1.6h-1.8zM481.74 105.26h1.8v1.6h-1.8zM481.74 96.34h1.8v1.6h-1.8zM488.18 67.70h1.8v1.6h-1.8zM488.18 121.45h1.8v1.6h-1.8zM488.18 89.32h1.8v1.6h-1.8zM488.18 95.20h1.8v1.6h-1.8zM488.18 87.70h1.8v1.6h-1.8zM488.18 89.90h1.8v1.6h-1.8zM488.18 89.37h1.8v1.6h-1.8zM488.18 82.62h1.8v1.6h-1.8zM488.18 89.10h1.8v1.6h-1.8zM488.18 86.23h1.8v1.6h-1.8zM488.18 107.98h1.8v1.6h-1.8zM488.18 107.91h1.8v1.6h-1.8zM488.18 98.60h1.8v1.6h-1.8zM488.18 86.74h1.8v1.6h-1.8zM488.18 119.68h1.8v1.6h-1.8zM488.18 100.46h1.8v1.6h-1.8zM488.18 95.02h1.8v1.6h-1.8zM488.18 72.74h1.8v1.6h-1.8zM494.62 51.20h1.8v1.6h-1.8zM494.62 107.70h1.8v1.6h-1.8zM494.62 45.20h1.8v1.6h-1.8zM494.62 82.99h1.8v1.6h-1.8zM494.62 65.92h1.8v1.6h-1.8zM494.62 102.73h1.8v1.6h-1.8zM494.62 72.06h1.8v1.6h-1.8zM494.62 80.61h1.8v1.6h-1.8zM494.62 51.20h1.8v1.6h-1.8zM494.62 93.99h1.8v1.6h-1.8zM494.62 69.98h1.8v1.6h-1.8zM494.62 96.30h1.8v1.6h-1.8zM494.62 85.69h1.8v1.6h-1.8zM494.62 76.97h1.8v1.6h-1.8zM494.62 79.52h1.8v1.6h-1.8zM494.62 69.66h1.8v1.6h-1.8zM494.62 102.37h1.8v1.6h-1.8zM494.62 57.47h1.8v1.6h-1.8zM494.62 57.53h1.8v1.6h-1.8zM501.06 42.20h1.8v1.6h-1.8zM501.06 106.45h1.8v1.6h-1.8zM501.06 74.69h1.8v1.6h-1.8zM501.06 64.53h1.8v1.6h-1.8zM501.06 73.24h1.8v1.6h-1.8zM501.06 69.71h1.8v1.6h-1.8zM501.06 83.03h1.8v1.6h-1.8zM501.06 64.98h1.8v1.6h-1.8zM501.06 79.03h1.8v1.6h-1.8zM501.06 73.46h1.8v1.6h-1.8zM501.06 73.99h1.8v1.6h-1.8zM501.06 67.26h1.8v1.6h-1.8zM501.06 92.72h1.8v1.6h-1.8zM501.06 52.94h1.8v1.6h-1.8zM501.06 54.69h1.8v1.6h-1.8zM501.06 72.81h1.8v1.6h-1.8zM501.06 77.06h1.8v1.6h-1.8zM501.06 88.63h1.8v1.6h-1.8zM507.50 50.20h1.8v1.6h-1.8zM507.50 117.70h1.8v1.6h-1.8zM507.50 93.53h1.8v1.6h-1.8zM507.50 96.85h1.8v1.6h-1.8zM507.50 98.70h1.8v1.6h-1.8zM507.50 101.32h1.8v1.6h-1.8zM507.50 68.90h1.8v1.6h-1.8zM507.50 84.62h1.8v1.6h-1.8zM507.50 61.43h1.8v1.6h-1.8zM507.50 116.52h1.8v1.6h-1.8zM507.50 117.70h1.8v1.6h-1.8zM507.50 69.54h1.8v1.6h-1.8zM507.50 79.63h1.8v1.6h-1.8zM507.50 89.00h1.8v1.6h-1.8zM507.50 100.57h1.8v1.6h-1.8zM507.50 111.17h1.8v1.6h-1.8zM507.50 78.58h1.8v1.6h-1.8zM507.50 91.25h1.8v1.6h-1.8zM513.94 65.20h1.8v1.6h-1.8zM513.94 131.45h1.8v1.6h-1.8zM513.94 109.10h1.8v1.6h-1.8zM513.94 95.24h1.8v1.6h-1.8zM513.94 83.19h1.8v1.6h-1.8zM513.94 92.29h1.8v1.6h-1.8zM513.94 108.17h1.8v1.6h-1.8zM513.94 109.94h1.8v1.6h-1.8zM513.94 103.04h1.8v1.6h-1.8zM513.94 79.16h1.8v1.6h-1.8zM513.94 100.10h1.8v1.6h-1.8zM513.94 96.11h1.8v1.6h-1.8zM513.94 111.40h1.8v1.6h-1.8zM513.94 108.84h1.8v1.6h-1.8zM513.94 88.14h1.8v1.6h-1.8zM513.94 85.67h1.8v1.6h-1.8zM513.94 93.62h1.8v1.6h-1.8zM513.94 126.89h1.8v1.6h-1.8zM520.38 57.70h1.8v1.6h-1.8zM520.38 125.20h1.8v1.6h-1.8zM520.38 105.46h1.8v1.6h-1.8zM520.38 72.88h1.8v1.6h-1.8zM520.38 109.23h1.8v1.6h-1.8zM520.38 110.98h1.8v1.6h-1.8zM520.38 71.02h1.8v1.6h-1.8zM520.38 75.07h1.8v1.6h-1.8zM520.38 89.58h1.8v1.6h-1.8zM520.38 70.85h1.8v1.6h-1.8zM520.38 68.54h1.8v1.6h-1.8zM520.38 111.79h1.8v1.6h-1.8zM520.38 125.20h1.8v1.6h-1.8zM520.38 73.62h1.8v1.6h-1.8zM520.38 87.79h1.8v1.6h-1.8zM520.38 101.91h1.8v1.6h-1.8zM520.38 100.02h1.8v1.6h-1.8zM520.38 114.18h1.8v1.6h-1.8zM526.82 58.95h1.8v1.6h-1.8zM526.82 136.45h1.8v1.6h-1.8zM526.82 111.00h1.8v1.6h-1.8zM526.82 94.67h1.8v1.6h-1.8zM526.82 75.71h1.8v1.6h-1.8zM526.82 104.96h1.8v1.6h-1.8zM526.82 77.56h1.8v1.6h-1.8zM526.82 109.36h1.8v1.6h-1.8zM526.82 80.81h1.8v1.6h-1.8zM526.82 115.49h1.8v1.6h-1.8zM526.82 128.77h1.8v1.6h-1.8zM526.82 93.39h1.8v1.6h-1.8zM526.82 116.48h1.8v1.6h-1.8zM526.82 93.24h1.8v1.6h-1.8zM526.82 105.02h1.8v1.6h-1.8zM526.82 107.71h1.8v1.6h-1.8zM526.82 101.38h1.8v1.6h-1.8zM526.82 129.12h1.8v1.6h-1.8zM533.26 70.20h1.8v1.6h-1.8zM533.26 128.95h1.8v1.6h-1.8zM533.26 42.70h1.8v1.6h-1.8zM533.26 102.59h1.8v1.6h-1.8zM533.26 117.28h1.8v1.6h-1.8zM533.26 112.70h1.8v1.6h-1.8zM533.26 93.12h1.8v1.6h-1.8zM533.26 101.94h1.8v1.6h-1.8zM533.26 128.72h1.8v1.6h-1.8zM533.26 104.78h1.8v1.6h-1.8zM533.26 98.89h1.8v1.6h-1.8zM533.26 116.25h1.8v1.6h-1.8zM533.26 70.20h1.8v1.6h-1.8zM533.26 95.79h1.8v1.6h-1.8zM533.26 112.19h1.8v1.6h-1.8zM533.26 103.07h1.8v1.6h-1.8zM533.26 108.71h1.8v1.6h-1.8zM533.26 101.42h1.8v1.6h-1.8zM533.26 84.59h1.8v1.6h-1.8zM539.70 78.95h1.8v1.6h-1.8zM539.70 132.70h1.8v1.6h-1.8zM539.70 45.20h1.8v1.6h-1.8zM539.70 101.39h1.8v1.6h-1.8zM539.70 117.18h1.8v1.6h-1.8zM539.70 132.70h1.8v1.6h-1.8zM539.70 82.01h1.8v1.6h-1.8zM539.70 101.55h1.8v1.6h-1.8zM539.70 114.97h1.8v1.6h-1.8zM539.70 103.11h1.8v1.6h-1.8zM539.70 128.06h1.8v1.6h-1.8zM539.70 112.86h1.8v1.6h-1.8zM539.70 101.28h1.8v1.6h-1.8zM539.70 114.93h1.8v1.6h-1.8zM539.70 112.87h1.8v1.6h-1.8zM539.70 117.81h1.8v1.6h-1.8zM539.70 84.10h1.8v1.6h-1.8zM539.70 118.53h1.8v1.6h-1.8zM539.70 101.70h1.8v1.6h-1.8zM546.14 57.70h1.8v1.6h-1.8zM546.14 138.95h1.8v1.6h-1.8zM546.14 104.03h1.8v1.6h-1.8zM546.14 99.92h1.8v1.6h-1.8zM546.14 104.84h1.8v1.6h-1.8zM546.14 80.75h1.8v1.6h-1.8zM546.14 105.88h1.8v1.6h-1.8zM546.14 112.14h1.8v1.6h-1.8zM546.14 133.17h1.8v1.6h-1.8zM546.14 123.67h1.8v1.6h-1.8zM546.14 77.56h1.8v1.6h-1.8zM546.14 108.07h1.8v1.6h-1.8zM546.14 105.60h1.8v1.6h-1.8zM546.14 120.70h1.8v1.6h-1.8zM546.14 97.26h1.8v1.6h-1.8zM546.14 138.95h1.8v1.6h-1.8zM546.14 118.73h1.8v1.6h-1.8zM546.14 75.25h1.8v1.6h-1.8zM552.58 50.20h1.8v1.6h-1.8zM552.58 143.95h1.8v1.6h-1.8zM552.58 63.83h1.8v1.6h-1.8zM552.58 82.88h1.8v1.6h-1.8zM552.58 115.30h1.8v1.6h-1.8zM552.58 107.81h1.8v1.6h-1.8zM552.58 126.07h1.8v1.6h-1.8zM552.58 70.24h1.8v1.6h-1.8zM552.58 88.26h1.8v1.6h-1.8zM552.58 117.21h1.8v1.6h-1.8zM552.58 97.65h1.8v1.6h-1.8zM552.58 97.77h1.8v1.6h-1.8zM552.58 110.64h1.8v1.6h-1.8zM552.58 92.68h1.8v1.6h-1.8zM552.58 101.49h1.8v1.6h-1.8zM552.58 83.79h1.8v1.6h-1.8zM552.58 70.20h1.8v1.6h-1.8zM552.58 104.86h1.8v1.6h-1.8zM559.02 56.45h1.8v1.6h-1.8zM559.02 152.70h1.8v1.6h-1.8zM559.02 111.98h1.8v1.6h-1.8zM559.02 121.66h1.8v1.6h-1.8zM559.02 105.86h1.8v1.6h-1.8zM559.02 106.11h1.8v1.6h-1.8zM559.02 74.95h1.8v1.6h-1.8zM559.02 136.87h1.8v1.6h-1.8zM559.02 109.13h1.8v1.6h-1.8zM559.02 128.55h1.8v1.6h-1.8zM559.02 82.95h1.8v1.6h-1.8zM559.02 121.67h1.8v1.6h-1.8zM559.02 106.17h1.8v1.6h-1.8zM559.02 111.54h1.8v1.6h-1.8zM559.02 73.74h1.8v1.6h-1.8zM559.02 152.70h1.8v1.6h-1.8zM559.02 82.57h1.8v1.6h-1.8zM559.02 92.43h1.8v1.6h-1.8zM565.46 80.20h1.8v1.6h-1.8zM565.46 133.95h1.8v1.6h-1.8zM565.46 33.95h1.8v1.6h-1.8zM565.46 101.47h1.8v1.6h-1.8zM565.46 126.62h1.8v1.6h-1.8zM565.46 117.61h1.8v1.6h-1.8zM565.46 121.24h1.8v1.6h-1.8zM565.46 102.25h1.8v1.6h-1.8zM565.46 107.09h1.8v1.6h-1.8zM565.46 95.44h1.8v1.6h-1.8zM565.46 107.01h1.8v1.6h-1.8zM565.46 121.03h1.8v1.6h-1.8zM565.46 107.99h1.8v1.6h-1.8zM565.46 108.81h1.8v1.6h-1.8zM565.46 112.91h1.8v1.6h-1.8zM565.46 100.76h1.8v1.6h-1.8zM565.46 92.10h1.8v1.6h-1.8zM565.46 91.61h1.8v1.6h-1.8zM565.46 119.73h1.8v1.6h-1.8zM571.90 82.70h1.8v1.6h-1.8zM571.90 136.45h1.8v1.6h-1.8zM571.90 42.20h1.8v1.6h-1.8zM571.90 118.30h1.8v1.6h-1.8zM571.90 101.04h1.8v1.6h-1.8zM571.90 83.00h1.8v1.6h-1.8zM571.90 105.14h1.8v1.6h-1.8zM571.90 108.13h1.8v1.6h-1.8zM571.90 123.53h1.8v1.6h-1.8zM571.90 97.52h1.8v1.6h-1.8zM571.90 110.61h1.8v1.6h-1.8zM571.90 88.66h1.8v1.6h-1.8zM571.90 101.22h1.8v1.6h-1.8zM571.90 118.72h1.8v1.6h-1.8zM571.90 100.05h1.8v1.6h-1.8zM571.90 105.03h1.8v1.6h-1.8zM571.90 130.97h1.8v1.6h-1.8zM571.90 106.62h1.8v1.6h-1.8zM571.90 99.77h1.8v1.6h-1.8z" fill="#000" fill-opacity="0.62"/>
<path d="M48.5 11V171.5H588.5" stroke="#1c1c1c" stroke-width="1" fill="none"/>
<path d="M57.60 171.5v-5 M186.40 171.5v-5 M315.20 171.5v-5 M444.00 171.5v-5 M572.80 171.5v-5 M48.5 25.00h5 M48.5 60.45h5 M48.5 95.90h5 M48.5 131.35h5 M48.5 166.80h5" stroke="#1c1c1c" stroke-width="1" fill="none"/>
<text x="57.60" y="187.4" text-anchor="middle">0</text>
<text x="182.55" y="187.4" text-anchor="middle">2</text><text x="190.25" y="187.4" text-anchor="middle">0</text>
<text x="311.35" y="187.4" text-anchor="middle">4</text><text x="319.05" y="187.4" text-anchor="middle">0</text>
<text x="440.15" y="187.4" text-anchor="middle">6</text><text x="447.85" y="187.4" text-anchor="middle">0</text>
<text x="568.95" y="187.4" text-anchor="middle">8</text><text x="576.65" y="187.4" text-anchor="middle">0</text>
<text x="25.5" y="29.60" text-anchor="middle">1</text><text x="30.5" y="29.60" text-anchor="middle">.</text><text x="36.45" y="29.60" text-anchor="middle">0</text>
<text x="25.5" y="65.05" text-anchor="middle">0</text><text x="30.5" y="65.05" text-anchor="middle">.</text><text x="36.45" y="65.05" text-anchor="middle">5</text>
<text x="25.5" y="100.50" text-anchor="middle">0</text><text x="30.5" y="100.50" text-anchor="middle">.</text><text x="36.45" y="100.50" text-anchor="middle">0</text>
<rect x="12.8" y="131.45" width="7.3" height="1.2" fill="#000"/><text x="25.5" y="135.95" text-anchor="middle">0</text><text x="30.5" y="135.95" text-anchor="middle">.</text><text x="36.45" y="135.95" text-anchor="middle">5</text>
<rect x="12.8" y="166.90" width="7.3" height="1.2" fill="#000"/><text x="25.5" y="171.40" text-anchor="middle">1</text><text x="30.5" y="171.40" text-anchor="middle">.</text><text x="36.45" y="171.40" text-anchor="middle">0</text>
<path d="M57.60 211V371.5 M186.40 211V371.5 M315.20 211V371.5 M444.00 211V371.5 M572.80 211V371.5 M48.5 243.75H588.5 M48.5 279.50H588.5 M48.5 315.25H588.5 M48.5 351.00H588.5" stroke="#000" stroke-opacity="0.1" stroke-width="0.8" fill="none"/>
<polyline points="64.04,336.15 70.48,331.25 76.92,325.65 83.36,321.10 89.80,316.90 96.24,315.15 102.68,318.10 109.12,313.40 115.56,311.65 122.00,311.50 128.44,309.90 134.88,300.25 141.32,293.40 147.76,301.60 154.20,304.40 160.64,299.50 167.08,292.00 173.52,285.85 179.96,284.60 186.40,281.10 192.84,272.40 199.28,278.15 205.72,273.50 212.16,261.60 218.60,255.85 225.04,254.60 231.48,257.25 237.92,255.85 244.36,251.10 250.80,248.85 257.24,244.65 263.68,256.40 270.12,254.70 276.56,245.10 283.00,241.75 289.44,232.10 295.88,227.75 302.32,223.40 308.76,230.40 315.20,238.25 321.64,249.60 328.08,259.60 334.52,265.70 340.96,274.00 347.40,287.90 353.84,281.75 360.28,288.75 366.72,297.15 373.16,297.15 379.60,287.90 386.04,294.00 392.48,287.00 398.92,300.10 405.36,314.00 411.80,309.70 418.24,322.85 424.68,321.10 431.12,328.60 437.56,323.50 444.00,321.60 450.44,319.90 456.88,326.00 463.32,309.40 469.76,307.00 476.20,302.90 482.64,312.90 489.08,323.40 495.52,334.40 501.96,327.75 508.40,316.90 514.84,319.90 521.28,325.65 527.72,332.65 534.16,331.25 540.60,317.60 547.04,315.30 553.48,311.65 559.92,314.60 566.36,328.60 572.80,326.90" fill="none" stroke="#009afa" stroke-width="4" stroke-linejoin="round" stroke-linecap="round"/>
<path d="M63.14 328.95h1.8v1.6h-1.8zM63.14 360.20h1.8v1.6h-1.8zM63.14 366.20h1.8v1.6h-1.8zM63.14 339.32h1.8v1.6h-1.8zM63.14 346.53h1.8v1.6h-1.8zM63.14 339.54h1.8v1.6h-1.8zM63.14 343.82h1.8v1.6h-1.8zM63.14 349.84h1.8v1.6h-1.8zM63.14 347.09h1.8v1.6h-1.8zM63.14 349.94h1.8v1.6h-1.8zM63.14 347.84h1.8v1.6h-1.8zM63.14 341.54h1.8v1.6h-1.8zM63.14 350.23h1.8v1.6h-1.8zM63.14 356.00h1.8v1.6h-1.8zM63.14 339.17h1.8v1.6h-1.8zM63.14 343.42h1.8v1.6h-1.8zM63.14 360.20h1.8v1.6h-1.8zM63.14 343.28h1.8v1.6h-1.8zM63.14 344.72h1.8v1.6h-1.8zM69.58 327.70h1.8v1.6h-1.8zM69.58 357.70h1.8v1.6h-1.8zM69.58 339.76h1.8v1.6h-1.8zM69.58 343.27h1.8v1.6h-1.8zM69.58 339.89h1.8v1.6h-1.8zM69.58 357.70h1.8v1.6h-1.8zM69.58 327.70h1.8v1.6h-1.8zM69.58 338.61h1.8v1.6h-1.8zM69.58 336.69h1.8v1.6h-1.8zM69.58 344.99h1.8v1.6h-1.8zM69.58 343.40h1.8v1.6h-1.8zM69.58 348.04h1.8v1.6h-1.8zM69.58 343.98h1.8v1.6h-1.8zM69.58 333.24h1.8v1.6h-1.8zM69.58 347.94h1.8v1.6h-1.8zM69.58 336.44h1.8v1.6h-1.8zM69.58 353.23h1.8v1.6h-1.8zM69.58 331.54h1.8v1.6h-1.8zM76.02 320.20h1.8v1.6h-1.8zM76.02 348.95h1.8v1.6h-1.8zM76.02 343.66h1.8v1.6h-1.8zM76.02 339.14h1.8v1.6h-1.8zM76.02 340.27h1.8v1.6h-1.8zM76.02 337.47h1.8v1.6h-1.8zM76.02 341.32h1.8v1.6h-1.8zM76.02 341.53h1.8v1.6h-1.8zM76.02 336.66h1.8v1.6h-1.8zM76.02 336.64h1.8v1.6h-1.8zM76.02 333.66h1.8v1.6h-1.8zM76.02 324.31h1.8v1.6h-1.8zM76.02 343.07h1.8v1.6h-1.8zM76.02 322.23h1.8v1.6h-1.8zM76.02 331.60h1.8v1.6h-1.8zM76.02 322.06h1.8v1.6h-1.8zM76.02 332.77h1.8v1.6h-1.8zM76.02 341.93h1.8v1.6h-1.8zM82.46 308.95h1.8v1.6h-1.8zM82.46 333.95h1.8v1.6h-1.8zM82.46 315.70h1.8v1.6h-1.8zM82.46 319.77h1.8v1.6h-1.8zM82.46 314.82h1.8v1.6h-1.8zM82.46 323.05h1.8v1.6h-1.8zM82.46 319.79h1.8v1.6h-1.8zM82.46 321.27h1.8v1.6h-1.8zM82.46 327.55h1.8v1.6h-1.8zM82.46 329.67h1.8v1.6h-1.8zM82.46 324.14h1.8v1.6h-1.8zM82.46 318.41h1.8v1.6h-1.8zM82.46 324.76h1.8v1.6h-1.8zM82.46 324.27h1.8v1.6h-1.8zM82.46 326.11h1.8v1.6h-1.8zM82.46 317.01h1.8v1.6h-1.8zM82.46 328.36h1.8v1.6h-1.8zM82.46 320.54h1.8v1.6h-1.8zM88.90 303.95h1.8v1.6h-1.8zM88.90 322.20h1.8v1.6h-1.8zM88.90 318.59h1.8v1.6h-1.8zM88.90 318.00h1.8v1.6h-1.8zM88.90 317.97h1.8v1.6h-1.8zM88.90 317.66h1.8v1.6h-1.8zM88.90 320.25h1.8v1.6h-1.8zM88.90 312.90h1.8v1.6h-1.8zM88.90 314.86h1.8v1.6h-1.8zM88.90 308.86h1.8v1.6h-1.8zM88.90 315.95h1.8v1.6h-1.8zM88.90 314.26h1.8v1.6h-1.8zM88.90 317.92h1.8v1.6h-1.8zM88.90 307.14h1.8v1.6h-1.8zM88.90 310.47h1.8v1.6h-1.8zM88.90 311.76h1.8v1.6h-1.8zM88.90 305.12h1.8v1.6h-1.8zM88.90 314.19h1.8v1.6h-1.8zM95.34 297.70h1.8v1.6h-1.8zM95.34 327.70h1.8v1.6h-1.8zM95.34 324.65h1.8v1.6h-1.8zM95.34 322.46h1.8v1.6h-1.8zM95.34 322.77h1.8v1.6h-1.8zM95.34 318.09h1.8v1.6h-1.8zM95.34 326.64h1.8v1.6h-1.8zM95.34 314.31h1.8v1.6h-1.8zM95.34 309.11h1.8v1.6h-1.8zM95.34 321.00h1.8v1.6h-1.8zM95.34 322.89h1.8v1.6h-1.8zM95.34 315.58h1.8v1.6h-1.8zM95.34 318.76h1.8v1.6h-1.8zM95.34 312.60h1.8v1.6h-1.8zM95.34 314.85h1.8v1.6h-1.8zM95.34 309.22h1.8v1.6h-1.8zM95.34 323.02h1.8v1.6h-1.8zM95.34 315.12h1.8v1.6h-1.8zM101.78 288.20h1.8v1.6h-1.8zM101.78 326.45h1.8v1.6h-1.8zM101.78 305.45h1.8v1.6h-1.8zM101.78 321.63h1.8v1.6h-1.8zM101.78 311.79h1.8v1.6h-1.8zM101.78 309.26h1.8v1.6h-1.8zM101.78 302.89h1.8v1.6h-1.8zM101.78 317.41h1.8v1.6h-1.8zM101.78 307.62h1.8v1.6h-1.8zM101.78 312.05h1.8v1.6h-1.8zM101.78 313.97h1.8v1.6h-1.8zM101.78 312.94h1.8v1.6h-1.8zM101.78 317.84h1.8v1.6h-1.8zM101.78 311.66h1.8v1.6h-1.8zM101.78 318.18h1.8v1.6h-1.8zM101.78 309.35h1.8v1.6h-1.8zM101.78 306.27h1.8v1.6h-1.8zM101.78 309.69h1.8v1.6h-1.8zM108.22 286.45h1.8v1.6h-1.8zM108.22 315.20h1.8v1.6h-1.8zM108.22 309.78h1.8v1.6h-1.8zM108.22 302.08h1.8v1.6h-1.8zM108.22 299.80h1.8v1.6h-1.8zM108.22 296.63h1.8v1.6h-1.8zM108.22 298.22h1.8v1.6h-1.8zM108.22 299.58h1.8v1.6h-1.8zM108.22 288.51h1.8v1.6h-1.8zM108.22 303.52h1.8v1.6h-1.8zM108.22 303.68h1.8v1.6h-1.8zM108.22 307.92h1.8v1.6h-1.8zM108.22 305.26h1.8v1.6h-1.8zM108.22 297.73h1.8v1.6h-1.8zM108.22 301.38h1.8v1.6h-1.8zM108.22 298.13h1.8v1.6h-1.8zM108.22 299.04h1.8v1.6h-1.8zM108.22 312.54h1.8v1.6h-1.8zM114.66 286.45h1.8v1.6h-1.8zM114.66 315.20h1.8v1.6h-1.8zM114.66 304.65h1.8v1.6h-1.8zM114.66 296.63h1.8v1.6h-1.8zM114.66 295.61h1.8v1.6h-1.8zM114.66 304.08h1.8v1.6h-1.8zM114.66 302.99h1.8v1.6h-1.8zM114.66 306.55h1.8v1.6h-1.8zM114.66 305.58h1.8v1.6h-1.8zM114.66 293.25h1.8v1.6h-1.8zM114.66 305.77h1.8v1.6h-1.8zM114.66 293.42h1.8v1.6h-1.8zM114.66 296.98h1.8v1.6h-1.8zM114.66 293.01h1.8v1.6h-1.8zM114.66 302.69h1.8v1.6h-1.8zM114.66 308.55h1.8v1.6h-1.8zM114.66 298.06h1.8v1.6h-1.8zM114.66 304.92h1.8v1.6h-1.8zM121.10 288.95h1.8v1.6h-1.8zM121.10 315.70h1.8v1.6h-1.8zM121.10 296.56h1.8v1.6h-1.8zM121.10 315.42h1.8v1.6h-1.8zM121.10 315.70h1.8v1.6h-1.8zM121.10 298.45h1.8v1.6h-1.8zM121.10 297.41h1.8v1.6h-1.8zM121.10 300.91h1.8v1.6h-1.8zM121.10 298.79h1.8v1.6h-1.8zM121.10 306.33h1.8v1.6h-1.8zM121.10 314.68h1.8v1.6h-1.8zM121.10 299.33h1.8v1.6h-1.8zM121.10 304.12h1.8v1.6h-1.8zM121.10 294.82h1.8v1.6h-1.8zM121.10 291.98h1.8v1.6h-1.8zM121.10 303.29h1.8v1.6h-1.8zM121.10 310.11h1.8v1.6h-1.8zM121.10 295.87h1.8v1.6h-1.8zM127.54 295.70h1.8v1.6h-1.8zM127.54 322.70h1.8v1.6h-1.8zM127.54 317.47h1.8v1.6h-1.8zM127.54 306.36h1.8v1.6h-1.8zM127.54 313.87h1.8v1.6h-1.8zM127.54 301.76h1.8v1.6h-1.8zM127.54 297.84h1.8v1.6h-1.8zM127.54 305.55h1.8v1.6h-1.8zM127.54 297.50h1.8v1.6h-1.8zM127.54 313.28h1.8v1.6h-1.8zM127.54 308.36h1.8v1.6h-1.8zM127.54 322.70h1.8v1.6h-1.8zM127.54 308.71h1.8v1.6h-1.8zM127.54 304.99h1.8v1.6h-1.8zM127.54 307.07h1.8v1.6h-1.8zM127.54 304.34h1.8v1.6h-1.8zM127.54 312.00h1.8v1.6h-1.8zM127.54 311.16h1.8v1.6h-1.8zM133.98 295.70h1.8v1.6h-1.8zM133.98 321.45h1.8v1.6h-1.8zM133.98 295.70h1.8v1.6h-1.8zM133.98 314.64h1.8v1.6h-1.8zM133.98 309.18h1.8v1.6h-1.8zM133.98 316.22h1.8v1.6h-1.8zM133.98 305.09h1.8v1.6h-1.8zM133.98 309.96h1.8v1.6h-1.8zM133.98 306.81h1.8v1.6h-1.8zM133.98 303.66h1.8v1.6h-1.8zM133.98 320.03h1.8v1.6h-1.8zM133.98 311.93h1.8v1.6h-1.8zM133.98 308.72h1.8v1.6h-1.8zM133.98 306.68h1.8v1.6h-1.8zM133.98 303.44h1.8v1.6h-1.8zM133.98 310.16h1.8v1.6h-1.8zM133.98 305.62h1.8v1.6h-1.8zM133.98 304.15h1.8v1.6h-1.8zM140.42 291.20h1.8v1.6h-1.8zM140.42 313.95h1.8v1.6h-1.8zM140.42 302.06h1.8v1.6h-1.8zM140.42 301.00h1.8v1.6h-1.8zM140.42 309.12h1.8v1.6h-1.8zM140.42 298.30h1.8v1.6h-1.8zM140.42 294.55h1.8v1.6h-1.8zM140.42 308.54h1.8v1.6h-1.8zM140.42 302.29h1.8v1.6h-1.8zM140.42 297.89h1.8v1.6h-1.8zM140.42 309.10h1.8v1.6h-1.8zM140.42 306.71h1.8v1.6h-1.8zM140.42 292.89h1.8v1.6h-1.8zM140.42 307.55h1.8v1.6h-1.8zM140.42 308.58h1.8v1.6h-1.8zM140.42 310.83h1.8v1.6h-1.8zM140.42 304.61h1.8v1.6h-1.8zM140.42 299.52h1.8v1.6h-1.8zM146.86 291.95h1.8v1.6h-1.8zM146.86 311.45h1.8v1.6h-1.8zM146.86 301.47h1.8v1.6h-1.8zM146.86 308.10h1.8v1.6h-1.8zM146.86 300.55h1.8v1.6h-1.8zM146.86 306.94h1.8v1.6h-1.8zM146.86 297.16h1.8v1.6h-1.8zM146.86 300.75h1.8v1.6h-1.8zM146.86 304.41h1.8v1.6h-1.8zM146.86 304.36h1.8v1.6h-1.8zM146.86 304.82h1.8v1.6h-1.8zM146.86 293.99h1.8v1.6h-1.8zM146.86 307.44h1.8v1.6h-1.8zM146.86 305.95h1.8v1.6h-1.8zM146.86 306.33h1.8v1.6h-1.8zM146.86 297.32h1.8v1.6h-1.8zM146.86 307.71h1.8v1.6h-1.8zM146.86 300.19h1.8v1.6h-1.8zM153.30 278.70h1.8v1.6h-1.8zM153.30 307.20h1.8v1.6h-1.8zM153.30 286.21h1.8v1.6h-1.8zM153.30 294.31h1.8v1.6h-1.8zM153.30 284.32h1.8v1.6h-1.8zM153.30 287.93h1.8v1.6h-1.8zM153.30 296.81h1.8v1.6h-1.8zM153.30 292.77h1.8v1.6h-1.8zM153.30 286.40h1.8v1.6h-1.8zM153.30 305.74h1.8v1.6h-1.8zM153.30 290.68h1.8v1.6h-1.8zM153.30 287.59h1.8v1.6h-1.8zM153.30 290.69h1.8v1.6h-1.8zM153.30 292.01h1.8v1.6h-1.8zM153.30 294.07h1.8v1.6h-1.8zM153.30 294.49h1.8v1.6h-1.8zM153.30 295.03h1.8v1.6h-1.8zM153.30 289.92h1.8v1.6h-1.8zM159.74 271.45h1.8v1.6h-1.8zM159.74 303.20h1.8v1.6h-1.8zM159.74 282.62h1.8v1.6h-1.8zM159.74 292.18h1.8v1.6h-1.8zM159.74 286.36h1.8v1.6h-1.8zM159.74 284.54h1.8v1.6h-1.8zM159.74 291.96h1.8v1.6h-1.8zM159.74 287.59h1.8v1.6h-1.8zM159.74 280.90h1.8v1.6h-1.8zM159.74 284.39h1.8v1.6h-1.8zM159.74 292.83h1.8v1.6h-1.8zM159.74 290.18h1.8v1.6h-1.8zM159.74 286.19h1.8v1.6h-1.8zM159.74 299.45h1.8v1.6h-1.8zM159.74 286.98h1.8v1.6h-1.8zM159.74 285.85h1.8v1.6h-1.8zM159.74 289.15h1.8v1.6h-1.8zM159.74 284.23h1.8v1.6h-1.8zM166.18 263.95h1.8v1.6h-1.8zM166.18 295.70h1.8v1.6h-1.8zM166.18 273.41h1.8v1.6h-1.8zM166.18 284.50h1.8v1.6h-1.8zM166.18 283.37h1.8v1.6h-1.8zM166.18 280.50h1.8v1.6h-1.8zM166.18 279.23h1.8v1.6h-1.8zM166.18 268.30h1.8v1.6h-1.8zM166.18 284.64h1.8v1.6h-1.8zM166.18 263.95h1.8v1.6h-1.8zM166.18 284.71h1.8v1.6h-1.8zM166.18 275.70h1.8v1.6h-1.8zM166.18 273.71h1.8v1.6h-1.8zM166.18 270.57h1.8v1.6h-1.8zM166.18 281.64h1.8v1.6h-1.8zM166.18 292.46h1.8v1.6h-1.8zM166.18 288.35h1.8v1.6h-1.8zM166.18 274.39h1.8v1.6h-1.8zM172.62 263.95h1.8v1.6h-1.8zM172.62 293.95h1.8v1.6h-1.8zM172.62 280.09h1.8v1.6h-1.8zM172.62 273.26h1.8v1.6h-1.8zM172.62 282.54h1.8v1.6h-1.8zM172.62 273.65h1.8v1.6h-1.8zM172.62 275.88h1.8v1.6h-1.8zM172.62 287.63h1.8v1.6h-1.8zM172.62 272.83h1.8v1.6h-1.8zM172.62 273.79h1.8v1.6h-1.8zM172.62 284.84h1.8v1.6h-1.8zM172.62 268.52h1.8v1.6h-1.8zM172.62 264.32h1.8v1.6h-1.8zM172.62 276.59h1.8v1.6h-1.8zM172.62 273.19h1.8v1.6h-1.8zM172.62 283.09h1.8v1.6h-1.8zM172.62 285.11h1.8v1.6h-1.8zM172.62 278.19h1.8v1.6h-1.8zM179.06 265.20h1.8v1.6h-1.8zM179.06 285.20h1.8v1.6h-1.8zM179.06 281.46h1.8v1.6h-1.8zM179.06 282.15h1.8v1.6h-1.8zM179.06 273.64h1.8v1.6h-1.8zM179.06 271.31h1.8v1.6h-1.8zM179.06 277.72h1.8v1.6h-1.8zM179.06 268.49h1.8v1.6h-1.8zM179.06 269.61h1.8v1.6h-1.8zM179.06 276.92h1.8v1.6h-1.8zM179.06 280.85h1.8v1.6h-1.8zM179.06 273.36h1.8v1.6h-1.8zM179.06 279.27h1.8v1.6h-1.8zM179.06 278.31h1.8v1.6h-1.8zM179.06 271.21h1.8v1.6h-1.8zM179.06 285.20h1.8v1.6h-1.8zM179.06 270.76h1.8v1.6h-1.8zM179.06 277.05h1.8v1.6h-1.8zM185.50 265.20h1.8v1.6h-1.8zM185.50 282.70h1.8v1.6h-1.8zM185.50 274.64h1.8v1.6h-1.8zM185.50 266.89h1.8v1.6h-1.8zM185.50 279.47h1.8v1.6h-1.8zM185.50 276.97h1.8v1.6h-1.8zM185.50 278.98h1.8v1.6h-1.8zM185.50 271.73h1.8v1.6h-1.8zM185.50 272.31h1.8v1.6h-1.8zM185.50 282.70h1.8v1.6h-1.8zM185.50 278.39h1.8v1.6h-1.8zM185.50 275.86h1.8v1.6h-1.8zM185.50 275.66h1.8v1.6h-1.8zM185.50 278.97h1.8v1.6h-1.8zM185.50 266.95h1.8v1.6h-1.8zM185.50 278.95h1.8v1.6h-1.8zM185.50 278.13h1.8v1.6h-1.8zM185.50 276.01h1.8v1.6h-1.8zM191.94 258.95h1.8v1.6h-1.8zM191.94 285.20h1.8v1.6h-1.8zM191.94 271.36h1.8v1.6h-1.8zM191.94 274.99h1.8v1.6h-1.8zM191.94 277.15h1.8v1.6h-1.8zM191.94 264.58h1.8v1.6h-1.8zM191.94 267.48h1.8v1.6h-1.8zM191.94 278.26h1.8v1.6h-1.8zM191.94 270.00h1.8v1.6h-1.8zM191.94 272.79h1.8v1.6h-1.8zM191.94 271.29h1.8v1.6h-1.8zM191.94 273.51h1.8v1.6h-1.8zM191.94 281.95h1.8v1.6h-1.8zM191.94 279.17h1.8v1.6h-1.8zM191.94 273.10h1.8v1.6h-1.8zM191.94 266.94h1.8v1.6h-1.8zM191.94 284.90h1.8v1.6h-1.8zM191.94 273.50h1.8v1.6h-1.8zM198.38 255.20h1.8v1.6h-1.8zM198.38 277.70h1.8v1.6h-1.8zM198.38 270.10h1.8v1.6h-1.8zM198.38 268.11h1.8v1.6h-1.8zM198.38 270.51h1.8v1.6h-1.8zM198.38 260.75h1.8v1.6h-1.8zM198.38 257.80h1.8v1.6h-1.8zM198.38 269.96h1.8v1.6h-1.8zM198.38 272.57h1.8v1.6h-1.8zM198.38 262.99h1.8v1.6h-1.8zM198.38 268.23h1.8v1.6h-1.8zM198.38 265.49h1.8v1.6h-1.8zM198.38 258.35h1.8v1.6h-1.8zM198.38 265.45h1.8v1.6h-1.8zM198.38 269.91h1.8v1.6h-1.8zM198.38 261.44h1.8v1.6h-1.8zM198.38 263.40h1.8v1.6h-1.8zM198.38 263.25h1.8v1.6h-1.8zM204.82 256.45h1.8v1.6h-1.8zM204.82 282.70h1.8v1.6h-1.8zM204.82 268.54h1.8v1.6h-1.8zM204.82 261.42h1.8v1.6h-1.8zM204.82 277.22h1.8v1.6h-1.8zM204.82 269.09h1.8v1.6h-1.8zM204.82 273.50h1.8v1.6h-1.8zM204.82 279.95h1.8v1.6h-1.8zM204.82 266.42h1.8v1.6h-1.8zM204.82 270.58h1.8v1.6h-1.8zM204.82 276.68h1.8v1.6h-1.8zM204.82 267.86h1.8v1.6h-1.8zM204.82 271.64h1.8v1.6h-1.8zM204.82 273.22h1.8v1.6h-1.8zM204.82 269.19h1.8v1.6h-1.8zM204.82 282.70h1.8v1.6h-1.8zM204.82 270.21h1.8v1.6h-1.8zM204.82 268.04h1.8v1.6h-1.8zM211.26 253.95h1.8v1.6h-1.8zM211.26 273.95h1.8v1.6h-1.8zM211.26 262.65h1.8v1.6h-1.8zM211.26 259.90h1.8v1.6h-1.8zM211.26 256.70h1.8v1.6h-1.8zM211.26 266.95h1.8v1.6h-1.8zM211.26 262.89h1.8v1.6h-1.8zM211.26 267.76h1.8v1.6h-1.8zM211.26 271.56h1.8v1.6h-1.8zM211.26 260.42h1.8v1.6h-1.8zM211.26 267.78h1.8v1.6h-1.8zM211.26 257.10h1.8v1.6h-1.8zM211.26 271.68h1.8v1.6h-1.8zM211.26 261.95h1.8v1.6h-1.8zM211.26 263.85h1.8v1.6h-1.8zM211.26 260.00h1.8v1.6h-1.8zM211.26 260.80h1.8v1.6h-1.8zM211.26 253.95h1.8v1.6h-1.8zM217.70 242.70h1.8v1.6h-1.8zM217.70 268.95h1.8v1.6h-1.8zM217.70 246.85h1.8v1.6h-1.8zM217.70 251.54h1.8v1.6h-1.8zM217.70 258.99h1.8v1.6h-1.8zM217.70 262.06h1.8v1.6h-1.8zM217.70 245.88h1.8v1.6h-1.8zM217.70 253.97h1.8v1.6h-1.8zM217.70 251.27h1.8v1.6h-1.8zM217.70 255.28h1.8v1.6h-1.8zM217.70 262.98h1.8v1.6h-1.8zM217.70 255.19h1.8v1.6h-1.8zM217.70 264.65h1.8v1.6h-1.8zM217.70 263.94h1.8v1.6h-1.8zM217.70 245.62h1.8v1.6h-1.8zM217.70 267.30h1.8v1.6h-1.8zM217.70 266.22h1.8v1.6h-1.8zM217.70 257.84h1.8v1.6h-1.8zM224.14 242.70h1.8v1.6h-1.8zM224.14 262.70h1.8v1.6h-1.8zM224.14 249.47h1.8v1.6h-1.8zM224.14 245.88h1.8v1.6h-1.8zM224.14 258.19h1.8v1.6h-1.8zM224.14 253.99h1.8v1.6h-1.8zM224.14 248.69h1.8v1.6h-1.8zM224.14 252.59h1.8v1.6h-1.8zM224.14 258.27h1.8v1.6h-1.8zM224.14 256.17h1.8v1.6h-1.8zM224.14 243.48h1.8v1.6h-1.8zM224.14 262.70h1.8v1.6h-1.8zM224.14 253.17h1.8v1.6h-1.8zM224.14 257.42h1.8v1.6h-1.8zM224.14 251.31h1.8v1.6h-1.8zM224.14 250.55h1.8v1.6h-1.8zM224.14 253.90h1.8v1.6h-1.8zM224.14 254.36h1.8v1.6h-1.8zM230.58 242.70h1.8v1.6h-1.8zM230.58 260.20h1.8v1.6h-1.8zM230.58 255.67h1.8v1.6h-1.8zM230.58 245.47h1.8v1.6h-1.8zM230.58 253.94h1.8v1.6h-1.8zM230.58 253.74h1.8v1.6h-1.8zM230.58 250.70h1.8v1.6h-1.8zM230.58 250.22h1.8v1.6h-1.8zM230.58 253.95h1.8v1.6h-1.8zM230.58 252.45h1.8v1.6h-1.8zM230.58 251.97h1.8v1.6h-1.8zM230.58 248.35h1.8v1.6h-1.8zM230.58 251.41h1.8v1.6h-1.8zM230.58 248.96h1.8v1.6h-1.8zM230.58 247.30h1.8v1.6h-1.8zM230.58 246.79h1.8v1.6h-1.8zM230.58 249.80h1.8v1.6h-1.8zM230.58 249.47h1.8v1.6h-1.8zM237.02 247.70h1.8v1.6h-1.8zM237.02 277.70h1.8v1.6h-1.8zM237.02 257.38h1.8v1.6h-1.8zM237.02 263.87h1.8v1.6h-1.8zM237.02 259.85h1.8v1.6h-1.8zM237.02 268.45h1.8v1.6h-1.8zM237.02 266.56h1.8v1.6h-1.8zM237.02 260.23h1.8v1.6h-1.8zM237.02 252.82h1.8v1.6h-1.8zM237.02 270.30h1.8v1.6h-1.8zM237.02 273.57h1.8v1.6h-1.8zM237.02 268.64h1.8v1.6h-1.8zM237.02 270.91h1.8v1.6h-1.8zM237.02 257.11h1.8v1.6h-1.8zM237.02 269.72h1.8v1.6h-1.8zM237.02 259.14h1.8v1.6h-1.8zM237.02 266.96h1.8v1.6h-1.8zM237.02 247.70h1.8v1.6h-1.8zM243.46 247.70h1.8v1.6h-1.8zM243.46 277.70h1.8v1.6h-1.8zM243.46 254.86h1.8v1.6h-1.8zM243.46 262.94h1.8v1.6h-1.8zM243.46 273.24h1.8v1.6h-1.8zM243.46 259.47h1.8v1.6h-1.8zM243.46 255.53h1.8v1.6h-1.8zM243.46 262.50h1.8v1.6h-1.8zM243.46 258.78h1.8v1.6h-1.8zM243.46 247.70h1.8v1.6h-1.8zM243.46 254.73h1.8v1.6h-1.8zM243.46 262.52h1.8v1.6h-1.8zM243.46 260.64h1.8v1.6h-1.8zM243.46 262.60h1.8v1.6h-1.8zM243.46 267.83h1.8v1.6h-1.8zM243.46 252.45h1.8v1.6h-1.8zM243.46 255.01h1.8v1.6h-1.8zM243.46 254.77h1.8v1.6h-1.8zM249.90 235.20h1.8v1.6h-1.8zM249.90 270.20h1.8v1.6h-1.8zM249.90 255.90h1.8v1.6h-1.8zM249.90 244.41h1.8v1.6h-1.8zM249.90 247.13h1.8v1.6h-1.8zM249.90 250.00h1.8v1.6h-1.8zM249.90 241.38h1.8v1.6h-1.8zM249.90 248.47h1.8v1.6h-1.8zM249.90 247.63h1.8v1.6h-1.8zM249.90 250.59h1.8v1.6h-1.8zM249.90 252.28h1.8v1.6h-1.8zM249.90 255.04h1.8v1.6h-1.8zM249.90 243.09h1.8v1.6h-1.8zM249.90 257.94h1.8v1.6h-1.8zM249.90 245.19h1.8v1.6h-1.8zM249.90 262.56h1.8v1.6h-1.8zM249.90 245.69h1.8v1.6h-1.8zM249.90 258.95h1.8v1.6h-1.8zM256.34 240.20h1.8v1.6h-1.8zM256.34 263.95h1.8v1.6h-1.8zM256.34 254.16h1.8v1.6h-1.8zM256.34 258.73h1.8v1.6h-1.8zM256.34 252.91h1.8v1.6h-1.8zM256.34 255.98h1.8v1.6h-1.8zM256.34 244.81h1.8v1.6h-1.8zM256.34 255.55h1.8v1.6h-1.8zM256.34 248.03h1.8v1.6h-1.8zM256.34 251.70h1.8v1.6h-1.8zM256.34 244.12h1.8v1.6h-1.8zM256.34 248.30h1.8v1.6h-1.8zM256.34 252.74h1.8v1.6h-1.8zM256.34 254.87h1.8v1.6h-1.8zM256.34 255.56h1.8v1.6h-1.8zM256.34 248.25h1.8v1.6h-1.8zM256.34 246.01h1.8v1.6h-1.8zM256.34 249.62h1.8v1.6h-1.8zM262.78 230.20h1.8v1.6h-1.8zM262.78 261.45h1.8v1.6h-1.8zM262.78 239.38h1.8v1.6h-1.8zM262.78 245.35h1.8v1.6h-1.8zM262.78 252.52h1.8v1.6h-1.8zM262.78 255.20h1.8v1.6h-1.8zM262.78 238.29h1.8v1.6h-1.8zM262.78 230.20h1.8v1.6h-1.8zM262.78 231.33h1.8v1.6h-1.8zM262.78 246.04h1.8v1.6h-1.8zM262.78 230.20h1.8v1.6h-1.8zM262.78 245.39h1.8v1.6h-1.8zM262.78 248.96h1.8v1.6h-1.8zM262.78 251.28h1.8v1.6h-1.8zM262.78 246.80h1.8v1.6h-1.8zM262.78 238.10h1.8v1.6h-1.8zM262.78 231.52h1.8v1.6h-1.8zM262.78 239.82h1.8v1.6h-1.8zM269.22 241.45h1.8v1.6h-1.8zM269.22 262.70h1.8v1.6h-1.8zM269.22 252.50h1.8v1.6h-1.8zM269.22 253.89h1.8v1.6h-1.8zM269.22 259.06h1.8v1.6h-1.8zM269.22 252.84h1.8v1.6h-1.8zM269.22 255.60h1.8v1.6h-1.8zM269.22 250.82h1.8v1.6h-1.8zM269.22 246.73h1.8v1.6h-1.8zM269.22 251.89h1.8v1.6h-1.8zM269.22 242.66h1.8v1.6h-1.8zM269.22 252.46h1.8v1.6h-1.8zM269.22 257.13h1.8v1.6h-1.8zM269.22 247.67h1.8v1.6h-1.8zM269.22 241.45h1.8v1.6h-1.8zM269.22 253.95h1.8v1.6h-1.8zM269.22 248.04h1.8v1.6h-1.8zM269.22 253.57h1.8v1.6h-1.8zM275.66 238.95h1.8v1.6h-1.8zM275.66 271.45h1.8v1.6h-1.8zM275.66 243.92h1.8v1.6h-1.8zM275.66 256.75h1.8v1.6h-1.8zM275.66 256.43h1.8v1.6h-1.8zM275.66 267.94h1.8v1.6h-1.8zM275.66 253.29h1.8v1.6h-1.8zM275.66 257.14h1.8v1.6h-1.8zM275.66 250.03h1.8v1.6h-1.8zM275.66 239.96h1.8v1.6h-1.8zM275.66 271.45h1.8v1.6h-1.8zM275.66 243.37h1.8v1.6h-1.8zM275.66 271.45h1.8v1.6h-1.8zM275.66 261.35h1.8v1.6h-1.8zM275.66 268.41h1.8v1.6h-1.8zM275.66 245.69h1.8v1.6h-1.8zM275.66 266.72h1.8v1.6h-1.8zM275.66 255.77h1.8v1.6h-1.8zM282.10 231.45h1.8v1.6h-1.8zM282.10 263.95h1.8v1.6h-1.8zM282.10 253.09h1.8v1.6h-1.8zM282.10 263.44h1.8v1.6h-1.8zM282.10 247.28h1.8v1.6h-1.8zM282.10 250.32h1.8v1.6h-1.8zM282.10 237.56h1.8v1.6h-1.8zM282.10 241.50h1.8v1.6h-1.8zM282.10 239.90h1.8v1.6h-1.8zM282.10 246.05h1.8v1.6h-1.8zM282.10 258.99h1.8v1.6h-1.8zM282.10 252.84h1.8v1.6h-1.8zM282.10 257.87h1.8v1.6h-1.8zM282.10 248.23h1.8v1.6h-1.8zM282.10 254.68h1.8v1.6h-1.8zM282.10 252.61h1.8v1.6h-1.8zM282.10 242.64h1.8v1.6h-1.8zM282.10 244.83h1.8v1.6h-1.8zM288.54 225.70h1.8v1.6h-1.8zM288.54 247.70h1.8v1.6h-1.8zM288.54 236.81h1.8v1.6h-1.8zM288.54 232.67h1.8v1.6h-1.8zM288.54 240.19h1.8v1.6h-1.8zM288.54 232.80h1.8v1.6h-1.8zM288.54 234.49h1.8v1.6h-1.8zM288.54 231.41h1.8v1.6h-1.8zM288.54 235.72h1.8v1.6h-1.8zM288.54 238.79h1.8v1.6h-1.8zM288.54 235.40h1.8v1.6h-1.8zM288.54 235.60h1.8v1.6h-1.8zM288.54 231.46h1.8v1.6h-1.8zM288.54 237.75h1.8v1.6h-1.8zM288.54 235.66h1.8v1.6h-1.8zM288.54 240.55h1.8v1.6h-1.8zM288.54 225.92h1.8v1.6h-1.8zM288.54 237.58h1.8v1.6h-1.8zM294.98 217.70h1.8v1.6h-1.8zM294.98 246.45h1.8v1.6h-1.8zM294.98 233.68h1.8v1.6h-1.8zM294.98 226.43h1.8v1.6h-1.8zM294.98 224.08h1.8v1.6h-1.8zM294.98 226.66h1.8v1.6h-1.8zM294.98 230.41h1.8v1.6h-1.8zM294.98 222.63h1.8v1.6h-1.8zM294.98 235.59h1.8v1.6h-1.8zM294.98 233.55h1.8v1.6h-1.8zM294.98 233.36h1.8v1.6h-1.8zM294.98 226.89h1.8v1.6h-1.8zM294.98 230.02h1.8v1.6h-1.8zM294.98 231.13h1.8v1.6h-1.8zM294.98 227.15h1.8v1.6h-1.8zM294.98 229.32h1.8v1.6h-1.8zM294.98 233.22h1.8v1.6h-1.8zM294.98 232.38h1.8v1.6h-1.8zM301.42 215.20h1.8v1.6h-1.8zM301.42 243.95h1.8v1.6h-1.8zM301.42 230.16h1.8v1.6h-1.8zM301.42 237.80h1.8v1.6h-1.8zM301.42 229.60h1.8v1.6h-1.8zM301.42 227.87h1.8v1.6h-1.8zM301.42 223.40h1.8v1.6h-1.8zM301.42 229.29h1.8v1.6h-1.8zM301.42 221.25h1.8v1.6h-1.8zM301.42 222.94h1.8v1.6h-1.8zM301.42 234.03h1.8v1.6h-1.8zM301.42 232.18h1.8v1.6h-1.8zM301.42 236.44h1.8v1.6h-1.8zM301.42 222.16h1.8v1.6h-1.8zM301.42 233.82h1.8v1.6h-1.8zM301.42 236.95h1.8v1.6h-1.8zM301.42 226.98h1.8v1.6h-1.8zM301.42 232.57h1.8v1.6h-1.8zM307.86 221.45h1.8v1.6h-1.8zM307.86 247.70h1.8v1.6h-1.8zM307.86 228.18h1.8v1.6h-1.8zM307.86 238.84h1.8v1.6h-1.8zM307.86 227.44h1.8v1.6h-1.8zM307.86 223.77h1.8v1.6h-1.8zM307.86 231.79h1.8v1.6h-1.8zM307.86 247.70h1.8v1.6h-1.8zM307.86 228.49h1.8v1.6h-1.8zM307.86 241.24h1.8v1.6h-1.8zM307.86 229.17h1.8v1.6h-1.8zM307.86 238.74h1.8v1.6h-1.8zM307.86 230.62h1.8v1.6h-1.8zM307.86 225.08h1.8v1.6h-1.8zM307.86 235.79h1.8v1.6h-1.8zM307.86 235.13h1.8v1.6h-1.8zM307.86 231.44h1.8v1.6h-1.8zM307.86 239.05h1.8v1.6h-1.8zM314.30 217.70h1.8v1.6h-1.8zM314.30 257.70h1.8v1.6h-1.8zM314.30 217.70h1.8v1.6h-1.8zM314.30 245.35h1.8v1.6h-1.8zM314.30 235.55h1.8v1.6h-1.8zM314.30 244.19h1.8v1.6h-1.8zM314.30 229.92h1.8v1.6h-1.8zM314.30 241.30h1.8v1.6h-1.8zM314.30 227.81h1.8v1.6h-1.8zM314.30 243.83h1.8v1.6h-1.8zM314.30 249.82h1.8v1.6h-1.8zM314.30 248.15h1.8v1.6h-1.8zM314.30 227.02h1.8v1.6h-1.8zM314.30 225.87h1.8v1.6h-1.8zM314.30 232.19h1.8v1.6h-1.8zM314.30 239.86h1.8v1.6h-1.8zM314.30 236.78h1.8v1.6h-1.8zM314.30 218.40h1.8v1.6h-1.8zM320.74 230.20h1.8v1.6h-1.8zM320.74 263.95h1.8v1.6h-1.8zM320.74 257.08h1.8v1.6h-1.8zM320.74 239.00h1.8v1.6h-1.8zM320.74 251.79h1.8v1.6h-1.8zM320.74 251.82h1.8v1.6h-1.8zM320.74 246.23h1.8v1.6h-1.8zM320.74 244.94h1.8v1.6h-1.8zM320.74 245.43h1.8v1.6h-1.8zM320.74 254.85h1.8v1.6h-1.8zM320.74 247.62h1.8v1.6h-1.8zM320.74 245.27h1.8v1.6h-1.8zM320.74 245.37h1.8v1.6h-1.8zM320.74 258.39h1.8v1.6h-1.8zM320.74 253.98h1.8v1.6h-1.8zM320.74 247.28h1.8v1.6h-1.8zM320.74 246.28h1.8v1.6h-1.8zM320.74 238.12h1.8v1.6h-1.8zM327.18 243.95h1.8v1.6h-1.8zM327.18 272.70h1.8v1.6h-1.8zM327.18 258.08h1.8v1.6h-1.8zM327.18 253.19h1.8v1.6h-1.8zM327.18 257.41h1.8v1.6h-1.8zM327.18 254.43h1.8v1.6h-1.8zM327.18 250.01h1.8v1.6h-1.8zM327.18 249.55h1.8v1.6h-1.8zM327.18 263.46h1.8v1.6h-1.8zM327.18 260.45h1.8v1.6h-1.8zM327.18 251.39h1.8v1.6h-1.8zM327.18 270.73h1.8v1.6h-1.8zM327.18 264.72h1.8v1.6h-1.8zM327.18 261.28h1.8v1.6h-1.8zM327.18 261.33h1.8v1.6h-1.8zM327.18 258.24h1.8v1.6h-1.8zM327.18 260.88h1.8v1.6h-1.8zM327.18 257.59h1.8v1.6h-1.8zM333.62 247.70h1.8v1.6h-1.8zM333.62 277.20h1.8v1.6h-1.8zM333.62 255.06h1.8v1.6h-1.8zM333.62 260.38h1.8v1.6h-1.8zM333.62 260.11h1.8v1.6h-1.8zM333.62 257.19h1.8v1.6h-1.8zM333.62 248.57h1.8v1.6h-1.8zM333.62 264.95h1.8v1.6h-1.8zM333.62 270.23h1.8v1.6h-1.8zM333.62 275.18h1.8v1.6h-1.8zM333.62 266.04h1.8v1.6h-1.8zM333.62 264.90h1.8v1.6h-1.8zM333.62 263.87h1.8v1.6h-1.8zM333.62 271.06h1.8v1.6h-1.8zM333.62 259.52h1.8v1.6h-1.8zM333.62 269.81h1.8v1.6h-1.8zM333.62 267.99h1.8v1.6h-1.8zM333.62 264.63h1.8v1.6h-1.8zM340.06 260.20h1.8v1.6h-1.8zM340.06 290.20h1.8v1.6h-1.8zM340.06 278.84h1.8v1.6h-1.8zM340.06 275.32h1.8v1.6h-1.8zM340.06 270.23h1.8v1.6h-1.8zM340.06 267.55h1.8v1.6h-1.8zM340.06 273.63h1.8v1.6h-1.8zM340.06 275.58h1.8v1.6h-1.8zM340.06 275.37h1.8v1.6h-1.8zM340.06 271.96h1.8v1.6h-1.8zM340.06 272.90h1.8v1.6h-1.8zM340.06 268.27h1.8v1.6h-1.8zM340.06 277.45h1.8v1.6h-1.8zM340.06 272.88h1.8v1.6h-1.8zM340.06 273.96h1.8v1.6h-1.8zM340.06 276.88h1.8v1.6h-1.8zM340.06 284.32h1.8v1.6h-1.8zM340.06 271.41h1.8v1.6h-1.8zM346.50 275.20h1.8v1.6h-1.8zM346.50 311.45h1.8v1.6h-1.8zM346.50 290.62h1.8v1.6h-1.8zM346.50 297.67h1.8v1.6h-1.8zM346.50 299.59h1.8v1.6h-1.8zM346.50 288.21h1.8v1.6h-1.8zM346.50 300.15h1.8v1.6h-1.8zM346.50 300.22h1.8v1.6h-1.8zM346.50 282.90h1.8v1.6h-1.8zM346.50 305.39h1.8v1.6h-1.8zM346.50 307.00h1.8v1.6h-1.8zM346.50 298.77h1.8v1.6h-1.8zM346.50 295.66h1.8v1.6h-1.8zM346.50 291.37h1.8v1.6h-1.8zM346.50 287.38h1.8v1.6h-1.8zM346.50 280.77h1.8v1.6h-1.8zM346.50 294.18h1.8v1.6h-1.8zM346.50 275.97h1.8v1.6h-1.8zM352.94 276.45h1.8v1.6h-1.8zM352.94 308.95h1.8v1.6h-1.8zM352.94 281.77h1.8v1.6h-1.8zM352.94 294.98h1.8v1.6h-1.8zM352.94 285.57h1.8v1.6h-1.8zM352.94 288.36h1.8v1.6h-1.8zM352.94 299.16h1.8v1.6h-1.8zM352.94 299.91h1.8v1.6h-1.8zM352.94 285.67h1.8v1.6h-1.8zM352.94 291.50h1.8v1.6h-1.8zM352.94 290.61h1.8v1.6h-1.8zM352.94 276.67h1.8v1.6h-1.8zM352.94 285.16h1.8v1.6h-1.8zM352.94 292.27h1.8v1.6h-1.8zM352.94 280.07h1.8v1.6h-1.8zM352.94 291.96h1.8v1.6h-1.8zM352.94 288.09h1.8v1.6h-1.8zM352.94 306.40h1.8v1.6h-1.8zM359.38 272.70h1.8v1.6h-1.8zM359.38 307.70h1.8v1.6h-1.8zM359.38 283.30h1.8v1.6h-1.8zM359.38 279.21h1.8v1.6h-1.8zM359.38 287.63h1.8v1.6h-1.8zM359.38 288.44h1.8v1.6h-1.8zM359.38 280.09h1.8v1.6h-1.8zM359.38 276.87h1.8v1.6h-1.8zM359.38 282.34h1.8v1.6h-1.8zM359.38 276.25h1.8v1.6h-1.8zM359.38 295.81h1.8v1.6h-1.8zM359.38 297.47h1.8v1.6h-1.8zM359.38 286.13h1.8v1.6h-1.8zM359.38 272.70h1.8v1.6h-1.8zM359.38 295.09h1.8v1.6h-1.8zM359.38 293.02h1.8v1.6h-1.8zM359.38 290.64h1.8v1.6h-1.8zM359.38 296.57h1.8v1.6h-1.8zM365.82 282.70h1.8v1.6h-1.8zM365.82 301.45h1.8v1.6h-1.8zM365.82 289.33h1.8v1.6h-1.8zM365.82 288.40h1.8v1.6h-1.8zM365.82 298.01h1.8v1.6h-1.8zM365.82 288.97h1.8v1.6h-1.8zM365.82 288.82h1.8v1.6h-1.8zM365.82 282.92h1.8v1.6h-1.8zM365.82 292.76h1.8v1.6h-1.8zM365.82 291.26h1.8v1.6h-1.8zM365.82 286.34h1.8v1.6h-1.8zM365.82 295.06h1.8v1.6h-1.8zM365.82 290.48h1.8v1.6h-1.8zM365.82 282.70h1.8v1.6h-1.8zM365.82 293.54h1.8v1.6h-1.8zM365.82 297.09h1.8v1.6h-1.8zM365.82 294.39h1.8v1.6h-1.8zM365.82 290.39h1.8v1.6h-1.8zM372.26 268.95h1.8v1.6h-1.8zM372.26 295.20h1.8v1.6h-1.8zM372.26 288.41h1.8v1.6h-1.8zM372.26 283.82h1.8v1.6h-1.8zM372.26 282.82h1.8v1.6h-1.8zM372.26 283.53h1.8v1.6h-1.8zM372.26 275.09h1.8v1.6h-1.8zM372.26 287.56h1.8v1.6h-1.8zM372.26 274.49h1.8v1.6h-1.8zM372.26 272.37h1.8v1.6h-1.8zM372.26 281.08h1.8v1.6h-1.8zM372.26 287.00h1.8v1.6h-1.8zM372.26 283.81h1.8v1.6h-1.8zM372.26 280.87h1.8v1.6h-1.8zM372.26 279.28h1.8v1.6h-1.8zM372.26 280.16h1.8v1.6h-1.8zM372.26 282.24h1.8v1.6h-1.8zM372.26 278.97h1.8v1.6h-1.8zM378.70 268.95h1.8v1.6h-1.8zM378.70 290.20h1.8v1.6h-1.8zM378.70 281.74h1.8v1.6h-1.8zM378.70 275.98h1.8v1.6h-1.8zM378.70 286.07h1.8v1.6h-1.8zM378.70 276.58h1.8v1.6h-1.8zM378.70 280.01h1.8v1.6h-1.8zM378.70 276.19h1.8v1.6h-1.8zM378.70 276.09h1.8v1.6h-1.8zM378.70 273.05h1.8v1.6h-1.8zM378.70 274.36h1.8v1.6h-1.8zM378.70 283.35h1.8v1.6h-1.8zM378.70 270.12h1.8v1.6h-1.8zM378.70 277.36h1.8v1.6h-1.8zM378.70 288.94h1.8v1.6h-1.8zM378.70 279.46h1.8v1.6h-1.8zM378.70 277.24h1.8v1.6h-1.8zM378.70 279.60h1.8v1.6h-1.8zM385.14 271.45h1.8v1.6h-1.8zM385.14 293.95h1.8v1.6h-1.8zM385.14 273.01h1.8v1.6h-1.8zM385.14 272.07h1.8v1.6h-1.8zM385.14 283.33h1.8v1.6h-1.8zM385.14 285.51h1.8v1.6h-1.8zM385.14 283.55h1.8v1.6h-1.8zM385.14 284.86h1.8v1.6h-1.8zM385.14 279.12h1.8v1.6h-1.8zM385.14 282.42h1.8v1.6h-1.8zM385.14 291.20h1.8v1.6h-1.8zM385.14 275.28h1.8v1.6h-1.8zM385.14 287.26h1.8v1.6h-1.8zM385.14 277.92h1.8v1.6h-1.8zM385.14 275.17h1.8v1.6h-1.8zM385.14 285.23h1.8v1.6h-1.8zM385.14 276.97h1.8v1.6h-1.8zM385.14 286.55h1.8v1.6h-1.8zM391.58 275.20h1.8v1.6h-1.8zM391.58 298.95h1.8v1.6h-1.8zM391.58 293.67h1.8v1.6h-1.8zM391.58 289.80h1.8v1.6h-1.8zM391.58 283.40h1.8v1.6h-1.8zM391.58 285.61h1.8v1.6h-1.8zM391.58 289.65h1.8v1.6h-1.8zM391.58 292.57h1.8v1.6h-1.8zM391.58 298.95h1.8v1.6h-1.8zM391.58 276.62h1.8v1.6h-1.8zM391.58 285.79h1.8v1.6h-1.8zM391.58 282.19h1.8v1.6h-1.8zM391.58 280.93h1.8v1.6h-1.8zM391.58 298.42h1.8v1.6h-1.8zM391.58 286.28h1.8v1.6h-1.8zM391.58 294.67h1.8v1.6h-1.8zM391.58 286.27h1.8v1.6h-1.8zM391.58 282.55h1.8v1.6h-1.8zM398.02 283.95h1.8v1.6h-1.8zM398.02 303.20h1.8v1.6h-1.8zM398.02 296.69h1.8v1.6h-1.8zM398.02 292.03h1.8v1.6h-1.8zM398.02 300.74h1.8v1.6h-1.8zM398.02 293.21h1.8v1.6h-1.8zM398.02 287.65h1.8v1.6h-1.8zM398.02 292.54h1.8v1.6h-1.8zM398.02 300.63h1.8v1.6h-1.8zM398.02 287.90h1.8v1.6h-1.8zM398.02 297.44h1.8v1.6h-1.8zM398.02 294.65h1.8v1.6h-1.8zM398.02 298.37h1.8v1.6h-1.8zM398.02 293.85h1.8v1.6h-1.8zM398.02 292.32h1.8v1.6h-1.8zM398.02 289.20h1.8v1.6h-1.8zM398.02 291.05h1.8v1.6h-1.8zM398.02 292.52h1.8v1.6h-1.8zM404.46 281.45h1.8v1.6h-1.8zM404.46 313.95h1.8v1.6h-1.8zM404.46 299.62h1.8v1.6h-1.8zM404.46 304.38h1.8v1.6h-1.8zM404.46 297.30h1.8v1.6h-1.8zM404.46 309.91h1.8v1.6h-1.8zM404.46 298.95h1.8v1.6h-1.8zM404.46 291.17h1.8v1.6h-1.8zM404.46 301.46h1.8v1.6h-1.8zM404.46 291.57h1.8v1.6h-1.8zM404.46 303.65h1.8v1.6h-1.8zM404.46 287.24h1.8v1.6h-1.8zM404.46 284.46h1.8v1.6h-1.8zM404.46 297.68h1.8v1.6h-1.8zM404.46 299.02h1.8v1.6h-1.8zM404.46 292.40h1.8v1.6h-1.8zM404.46 303.38h1.8v1.6h-1.8zM404.46 293.48h1.8v1.6h-1.8zM410.90 292.70h1.8v1.6h-1.8zM410.90 316.95h1.8v1.6h-1.8zM410.90 316.95h1.8v1.6h-1.8zM410.90 311.66h1.8v1.6h-1.8zM410.90 313.33h1.8v1.6h-1.8zM410.90 304.41h1.8v1.6h-1.8zM410.90 305.69h1.8v1.6h-1.8zM410.90 305.07h1.8v1.6h-1.8zM410.90 306.56h1.8v1.6h-1.8zM410.90 296.14h1.8v1.6h-1.8zM410.90 312.80h1.8v1.6h-1.8zM410.90 292.70h1.8v1.6h-1.8zM410.90 297.46h1.8v1.6h-1.8zM410.90 297.25h1.8v1.6h-1.8zM410.90 300.90h1.8v1.6h-1.8zM410.90 309.23h1.8v1.6h-1.8zM410.90 301.15h1.8v1.6h-1.8zM410.90 301.51h1.8v1.6h-1.8zM417.34 290.20h1.8v1.6h-1.8zM417.34 321.95h1.8v1.6h-1.8zM417.34 297.24h1.8v1.6h-1.8zM417.34 293.16h1.8v1.6h-1.8zM417.34 291.04h1.8v1.6h-1.8zM417.34 311.21h1.8v1.6h-1.8zM417.34 306.58h1.8v1.6h-1.8zM417.34 300.22h1.8v1.6h-1.8zM417.34 312.07h1.8v1.6h-1.8zM417.34 308.80h1.8v1.6h-1.8zM417.34 297.85h1.8v1.6h-1.8zM417.34 300.43h1.8v1.6h-1.8zM417.34 312.10h1.8v1.6h-1.8zM417.34 315.86h1.8v1.6h-1.8zM417.34 302.97h1.8v1.6h-1.8zM417.34 312.83h1.8v1.6h-1.8zM417.34 315.10h1.8v1.6h-1.8zM417.34 313.82h1.8v1.6h-1.8zM423.78 293.95h1.8v1.6h-1.8zM423.78 328.95h1.8v1.6h-1.8zM423.78 311.47h1.8v1.6h-1.8zM423.78 317.06h1.8v1.6h-1.8zM423.78 317.40h1.8v1.6h-1.8zM423.78 306.87h1.8v1.6h-1.8zM423.78 312.47h1.8v1.6h-1.8zM423.78 308.75h1.8v1.6h-1.8zM423.78 299.45h1.8v1.6h-1.8zM423.78 311.15h1.8v1.6h-1.8zM423.78 308.82h1.8v1.6h-1.8zM423.78 302.52h1.8v1.6h-1.8zM423.78 316.34h1.8v1.6h-1.8zM423.78 320.67h1.8v1.6h-1.8zM423.78 316.62h1.8v1.6h-1.8zM423.78 306.79h1.8v1.6h-1.8zM423.78 301.20h1.8v1.6h-1.8zM423.78 318.26h1.8v1.6h-1.8zM430.22 309.20h1.8v1.6h-1.8zM430.22 333.95h1.8v1.6h-1.8zM430.22 316.49h1.8v1.6h-1.8zM430.22 328.43h1.8v1.6h-1.8zM430.22 318.51h1.8v1.6h-1.8zM430.22 323.32h1.8v1.6h-1.8zM430.22 319.49h1.8v1.6h-1.8zM430.22 321.86h1.8v1.6h-1.8zM430.22 327.05h1.8v1.6h-1.8zM430.22 324.59h1.8v1.6h-1.8zM430.22 315.81h1.8v1.6h-1.8zM430.22 330.49h1.8v1.6h-1.8zM430.22 326.71h1.8v1.6h-1.8zM430.22 323.36h1.8v1.6h-1.8zM430.22 315.45h1.8v1.6h-1.8zM430.22 316.98h1.8v1.6h-1.8zM430.22 315.94h1.8v1.6h-1.8zM430.22 316.29h1.8v1.6h-1.8zM436.66 297.70h1.8v1.6h-1.8zM436.66 333.95h1.8v1.6h-1.8zM436.66 321.82h1.8v1.6h-1.8zM436.66 314.47h1.8v1.6h-1.8zM436.66 312.41h1.8v1.6h-1.8zM436.66 315.69h1.8v1.6h-1.8zM436.66 316.78h1.8v1.6h-1.8zM436.66 304.98h1.8v1.6h-1.8zM436.66 320.00h1.8v1.6h-1.8zM436.66 314.91h1.8v1.6h-1.8zM436.66 309.20h1.8v1.6h-1.8zM436.66 314.21h1.8v1.6h-1.8zM436.66 298.48h1.8v1.6h-1.8zM436.66 325.37h1.8v1.6h-1.8zM436.66 316.41h1.8v1.6h-1.8zM436.66 320.39h1.8v1.6h-1.8zM436.66 310.18h1.8v1.6h-1.8zM436.66 319.73h1.8v1.6h-1.8zM443.10 303.95h1.8v1.6h-1.8zM443.10 330.20h1.8v1.6h-1.8zM443.10 318.32h1.8v1.6h-1.8zM443.10 307.28h1.8v1.6h-1.8zM443.10 316.08h1.8v1.6h-1.8zM443.10 328.98h1.8v1.6h-1.8zM443.10 317.29h1.8v1.6h-1.8zM443.10 319.33h1.8v1.6h-1.8zM443.10 321.00h1.8v1.6h-1.8zM443.10 324.27h1.8v1.6h-1.8zM443.10 318.51h1.8v1.6h-1.8zM443.10 307.24h1.8v1.6h-1.8zM443.10 320.40h1.8v1.6h-1.8zM443.10 322.36h1.8v1.6h-1.8zM443.10 320.81h1.8v1.6h-1.8zM443.10 309.04h1.8v1.6h-1.8zM443.10 317.47h1.8v1.6h-1.8zM443.10 313.50h1.8v1.6h-1.8zM449.54 308.20h1.8v1.6h-1.8zM449.54 331.45h1.8v1.6h-1.8zM449.54 320.92h1.8v1.6h-1.8zM449.54 316.61h1.8v1.6h-1.8zM449.54 326.04h1.8v1.6h-1.8zM449.54 321.04h1.8v1.6h-1.8zM449.54 315.06h1.8v1.6h-1.8zM449.54 313.59h1.8v1.6h-1.8zM449.54 316.33h1.8v1.6h-1.8zM449.54 320.13h1.8v1.6h-1.8zM449.54 314.10h1.8v1.6h-1.8zM449.54 317.26h1.8v1.6h-1.8zM449.54 324.15h1.8v1.6h-1.8zM449.54 319.85h1.8v1.6h-1.8zM449.54 313.12h1.8v1.6h-1.8zM449.54 325.81h1.8v1.6h-1.8zM449.54 331.45h1.8v1.6h-1.8zM449.54 317.26h1.8v1.6h-1.8zM455.98 306.45h1.8v1.6h-1.8zM455.98 323.95h1.8v1.6h-1.8zM455.98 311.66h1.8v1.6h-1.8zM455.98 313.59h1.8v1.6h-1.8zM455.98 319.87h1.8v1.6h-1.8zM455.98 309.37h1.8v1.6h-1.8zM455.98 318.30h1.8v1.6h-1.8zM455.98 314.41h1.8v1.6h-1.8zM455.98 320.78h1.8v1.6h-1.8zM455.98 315.12h1.8v1.6h-1.8zM455.98 313.33h1.8v1.6h-1.8zM455.98 312.80h1.8v1.6h-1.8zM455.98 317.26h1.8v1.6h-1.8zM455.98 314.11h1.8v1.6h-1.8zM455.98 311.71h1.8v1.6h-1.8zM455.98 306.45h1.8v1.6h-1.8zM455.98 316.14h1.8v1.6h-1.8zM455.98 312.47h1.8v1.6h-1.8zM462.42 304.70h1.8v1.6h-1.8zM462.42 323.45h1.8v1.6h-1.8zM462.42 322.57h1.8v1.6h-1.8zM462.42 313.00h1.8v1.6h-1.8zM462.42 322.09h1.8v1.6h-1.8zM462.42 313.85h1.8v1.6h-1.8zM462.42 317.05h1.8v1.6h-1.8zM462.42 313.09h1.8v1.6h-1.8zM462.42 314.85h1.8v1.6h-1.8zM462.42 317.28h1.8v1.6h-1.8zM462.42 311.30h1.8v1.6h-1.8zM462.42 314.50h1.8v1.6h-1.8zM462.42 321.03h1.8v1.6h-1.8zM462.42 309.26h1.8v1.6h-1.8zM462.42 312.20h1.8v1.6h-1.8zM462.42 316.95h1.8v1.6h-1.8zM462.42 316.07h1.8v1.6h-1.8zM462.42 316.36h1.8v1.6h-1.8zM468.86 303.20h1.8v1.6h-1.8zM468.86 332.70h1.8v1.6h-1.8zM468.86 317.07h1.8v1.6h-1.8zM468.86 323.98h1.8v1.6h-1.8zM468.86 317.24h1.8v1.6h-1.8zM468.86 315.58h1.8v1.6h-1.8zM468.86 306.02h1.8v1.6h-1.8zM468.86 313.35h1.8v1.6h-1.8zM468.86 318.49h1.8v1.6h-1.8zM468.86 327.87h1.8v1.6h-1.8zM468.86 316.67h1.8v1.6h-1.8zM468.86 332.70h1.8v1.6h-1.8zM468.86 311.24h1.8v1.6h-1.8zM468.86 317.93h1.8v1.6h-1.8zM468.86 325.41h1.8v1.6h-1.8zM468.86 314.01h1.8v1.6h-1.8zM468.86 314.60h1.8v1.6h-1.8zM468.86 320.98h1.8v1.6h-1.8zM475.30 301.45h1.8v1.6h-1.8zM475.30 338.95h1.8v1.6h-1.8zM475.30 326.18h1.8v1.6h-1.8zM475.30 325.11h1.8v1.6h-1.8zM475.30 337.92h1.8v1.6h-1.8zM475.30 322.90h1.8v1.6h-1.8zM475.30 333.88h1.8v1.6h-1.8zM475.30 309.92h1.8v1.6h-1.8zM475.30 311.91h1.8v1.6h-1.8zM475.30 321.13h1.8v1.6h-1.8zM475.30 319.06h1.8v1.6h-1.8zM475.30 324.91h1.8v1.6h-1.8zM475.30 318.39h1.8v1.6h-1.8zM475.30 327.67h1.8v1.6h-1.8zM475.30 314.40h1.8v1.6h-1.8zM475.30 320.08h1.8v1.6h-1.8zM475.30 309.84h1.8v1.6h-1.8zM475.30 318.59h1.8v1.6h-1.8zM481.74 303.95h1.8v1.6h-1.8zM481.74 333.95h1.8v1.6h-1.8zM481.74 324.91h1.8v1.6h-1.8zM481.74 326.21h1.8v1.6h-1.8zM481.74 328.89h1.8v1.6h-1.8zM481.74 312.26h1.8v1.6h-1.8zM481.74 313.75h1.8v1.6h-1.8zM481.74 317.56h1.8v1.6h-1.8zM481.74 317.84h1.8v1.6h-1.8zM481.74 313.79h1.8v1.6h-1.8zM481.74 322.29h1.8v1.6h-1.8zM481.74 314.26h1.8v1.6h-1.8zM481.74 323.24h1.8v1.6h-1.8zM481.74 330.58h1.8v1.6h-1.8zM481.74 320.36h1.8v1.6h-1.8zM481.74 324.56h1.8v1.6h-1.8zM481.74 316.65h1.8v1.6h-1.8zM481.74 312.32h1.8v1.6h-1.8zM488.18 300.20h1.8v1.6h-1.8zM488.18 335.20h1.8v1.6h-1.8zM488.18 303.13h1.8v1.6h-1.8zM488.18 329.11h1.8v1.6h-1.8zM488.18 335.13h1.8v1.6h-1.8zM488.18 300.20h1.8v1.6h-1.8zM488.18 310.13h1.8v1.6h-1.8zM488.18 314.77h1.8v1.6h-1.8zM488.18 310.48h1.8v1.6h-1.8zM488.18 313.13h1.8v1.6h-1.8zM488.18 324.07h1.8v1.6h-1.8zM488.18 316.31h1.8v1.6h-1.8zM488.18 324.48h1.8v1.6h-1.8zM488.18 304.71h1.8v1.6h-1.8zM488.18 315.07h1.8v1.6h-1.8zM488.18 331.96h1.8v1.6h-1.8zM488.18 312.45h1.8v1.6h-1.8zM488.18 303.78h1.8v1.6h-1.8zM494.62 301.45h1.8v1.6h-1.8zM494.62 336.45h1.8v1.6h-1.8zM494.62 314.35h1.8v1.6h-1.8zM494.62 318.47h1.8v1.6h-1.8zM494.62 301.45h1.8v1.6h-1.8zM494.62 321.22h1.8v1.6h-1.8zM494.62 325.05h1.8v1.6h-1.8zM494.62 314.92h1.8v1.6h-1.8zM494.62 317.75h1.8v1.6h-1.8zM494.62 317.33h1.8v1.6h-1.8zM494.62 316.92h1.8v1.6h-1.8zM494.62 308.12h1.8v1.6h-1.8zM494.62 313.88h1.8v1.6h-1.8zM494.62 323.22h1.8v1.6h-1.8zM494.62 324.28h1.8v1.6h-1.8zM494.62 322.02h1.8v1.6h-1.8zM494.62 311.06h1.8v1.6h-1.8zM494.62 322.75h1.8v1.6h-1.8zM501.06 300.20h1.8v1.6h-1.8zM501.06 335.20h1.8v1.6h-1.8zM501.06 324.96h1.8v1.6h-1.8zM501.06 328.29h1.8v1.6h-1.8zM501.06 322.92h1.8v1.6h-1.8zM501.06 318.03h1.8v1.6h-1.8zM501.06 316.60h1.8v1.6h-1.8zM501.06 322.78h1.8v1.6h-1.8zM501.06 325.56h1.8v1.6h-1.8zM501.06 300.20h1.8v1.6h-1.8zM501.06 310.30h1.8v1.6h-1.8zM501.06 319.10h1.8v1.6h-1.8zM501.06 325.45h1.8v1.6h-1.8zM501.06 306.01h1.8v1.6h-1.8zM501.06 306.63h1.8v1.6h-1.8zM501.06 302.40h1.8v1.6h-1.8zM501.06 327.67h1.8v1.6h-1.8zM501.06 322.70h1.8v1.6h-1.8zM507.50 299.70h1.8v1.6h-1.8zM507.50 332.70h1.8v1.6h-1.8zM507.50 313.90h1.8v1.6h-1.8zM507.50 332.70h1.8v1.6h-1.8zM507.50 331.20h1.8v1.6h-1.8zM507.50 322.66h1.8v1.6h-1.8zM507.50 318.53h1.8v1.6h-1.8zM507.50 314.84h1.8v1.6h-1.8zM507.50 323.19h1.8v1.6h-1.8zM507.50 310.02h1.8v1.6h-1.8zM507.50 323.34h1.8v1.6h-1.8zM507.50 311.00h1.8v1.6h-1.8zM507.50 322.99h1.8v1.6h-1.8zM507.50 315.32h1.8v1.6h-1.8zM507.50 320.12h1.8v1.6h-1.8zM507.50 326.61h1.8v1.6h-1.8zM507.50 322.16h1.8v1.6h-1.8zM507.50 315.27h1.8v1.6h-1.8zM513.94 302.70h1.8v1.6h-1.8zM513.94 330.20h1.8v1.6h-1.8zM513.94 314.46h1.8v1.6h-1.8zM513.94 311.71h1.8v1.6h-1.8zM513.94 310.18h1.8v1.6h-1.8zM513.94 322.96h1.8v1.6h-1.8zM513.94 317.40h1.8v1.6h-1.8zM513.94 308.85h1.8v1.6h-1.8zM513.94 325.10h1.8v1.6h-1.8zM513.94 312.41h1.8v1.6h-1.8zM513.94 325.27h1.8v1.6h-1.8zM513.94 318.44h1.8v1.6h-1.8zM513.94 321.20h1.8v1.6h-1.8zM513.94 317.51h1.8v1.6h-1.8zM513.94 309.90h1.8v1.6h-1.8zM513.94 314.99h1.8v1.6h-1.8zM513.94 313.83h1.8v1.6h-1.8zM513.94 310.28h1.8v1.6h-1.8zM520.38 293.95h1.8v1.6h-1.8zM520.38 332.70h1.8v1.6h-1.8zM520.38 317.62h1.8v1.6h-1.8zM520.38 302.43h1.8v1.6h-1.8zM520.38 302.69h1.8v1.6h-1.8zM520.38 306.30h1.8v1.6h-1.8zM520.38 301.95h1.8v1.6h-1.8zM520.38 313.16h1.8v1.6h-1.8zM520.38 318.56h1.8v1.6h-1.8zM520.38 313.53h1.8v1.6h-1.8zM520.38 310.79h1.8v1.6h-1.8zM520.38 319.46h1.8v1.6h-1.8zM520.38 318.36h1.8v1.6h-1.8zM520.38 326.57h1.8v1.6h-1.8zM520.38 308.20h1.8v1.6h-1.8zM520.38 315.27h1.8v1.6h-1.8zM520.38 310.09h1.8v1.6h-1.8zM520.38 308.57h1.8v1.6h-1.8zM526.82 292.70h1.8v1.6h-1.8zM526.82 335.20h1.8v1.6h-1.8zM526.82 311.87h1.8v1.6h-1.8zM526.82 320.39h1.8v1.6h-1.8zM526.82 308.70h1.8v1.6h-1.8zM526.82 303.18h1.8v1.6h-1.8zM526.82 329.73h1.8v1.6h-1.8zM526.82 315.27h1.8v1.6h-1.8zM526.82 317.33h1.8v1.6h-1.8zM526.82 321.06h1.8v1.6h-1.8zM526.82 324.82h1.8v1.6h-1.8zM526.82 322.16h1.8v1.6h-1.8zM526.82 306.73h1.8v1.6h-1.8zM526.82 311.27h1.8v1.6h-1.8zM526.82 324.15h1.8v1.6h-1.8zM526.82 313.65h1.8v1.6h-1.8zM526.82 326.10h1.8v1.6h-1.8zM526.82 327.47h1.8v1.6h-1.8zM533.26 298.95h1.8v1.6h-1.8zM533.26 335.20h1.8v1.6h-1.8zM533.26 307.45h1.8v1.6h-1.8zM533.26 316.32h1.8v1.6h-1.8zM533.26 309.38h1.8v1.6h-1.8zM533.26 311.05h1.8v1.6h-1.8zM533.26 314.72h1.8v1.6h-1.8zM533.26 318.13h1.8v1.6h-1.8zM533.26 320.31h1.8v1.6h-1.8zM533.26 306.65h1.8v1.6h-1.8zM533.26 316.39h1.8v1.6h-1.8zM533.26 314.15h1.8v1.6h-1.8zM533.26 309.29h1.8v1.6h-1.8zM533.26 318.42h1.8v1.6h-1.8zM533.26 303.95h1.8v1.6h-1.8zM533.26 314.92h1.8v1.6h-1.8zM533.26 316.52h1.8v1.6h-1.8zM533.26 331.12h1.8v1.6h-1.8zM539.70 299.70h1.8v1.6h-1.8zM539.70 333.95h1.8v1.6h-1.8zM539.70 315.78h1.8v1.6h-1.8zM539.70 313.87h1.8v1.6h-1.8zM539.70 324.03h1.8v1.6h-1.8zM539.70 307.96h1.8v1.6h-1.8zM539.70 314.77h1.8v1.6h-1.8zM539.70 333.94h1.8v1.6h-1.8zM539.70 327.08h1.8v1.6h-1.8zM539.70 319.75h1.8v1.6h-1.8zM539.70 324.72h1.8v1.6h-1.8zM539.70 306.37h1.8v1.6h-1.8zM539.70 324.86h1.8v1.6h-1.8zM539.70 311.94h1.8v1.6h-1.8zM539.70 318.98h1.8v1.6h-1.8zM539.70 315.53h1.8v1.6h-1.8zM539.70 319.26h1.8v1.6h-1.8zM539.70 312.09h1.8v1.6h-1.8zM546.14 299.70h1.8v1.6h-1.8zM546.14 333.95h1.8v1.6h-1.8zM546.14 301.64h1.8v1.6h-1.8zM546.14 299.70h1.8v1.6h-1.8zM546.14 301.06h1.8v1.6h-1.8zM546.14 316.95h1.8v1.6h-1.8zM546.14 310.28h1.8v1.6h-1.8zM546.14 302.49h1.8v1.6h-1.8zM546.14 326.24h1.8v1.6h-1.8zM546.14 317.06h1.8v1.6h-1.8zM546.14 309.15h1.8v1.6h-1.8zM546.14 306.20h1.8v1.6h-1.8zM546.14 321.60h1.8v1.6h-1.8zM546.14 314.89h1.8v1.6h-1.8zM546.14 305.58h1.8v1.6h-1.8zM546.14 315.12h1.8v1.6h-1.8zM546.14 302.13h1.8v1.6h-1.8zM546.14 327.63h1.8v1.6h-1.8zM552.58 303.95h1.8v1.6h-1.8zM552.58 325.20h1.8v1.6h-1.8zM552.58 312.59h1.8v1.6h-1.8zM552.58 314.52h1.8v1.6h-1.8zM552.58 309.30h1.8v1.6h-1.8zM552.58 308.08h1.8v1.6h-1.8zM552.58 312.73h1.8v1.6h-1.8zM552.58 309.01h1.8v1.6h-1.8zM552.58 304.85h1.8v1.6h-1.8zM552.58 316.58h1.8v1.6h-1.8zM552.58 312.24h1.8v1.6h-1.8zM552.58 307.02h1.8v1.6h-1.8zM552.58 315.56h1.8v1.6h-1.8zM552.58 312.43h1.8v1.6h-1.8zM552.58 311.49h1.8v1.6h-1.8zM552.58 305.12h1.8v1.6h-1.8zM552.58 313.30h1.8v1.6h-1.8zM552.58 303.95h1.8v1.6h-1.8zM559.02 302.70h1.8v1.6h-1.8zM559.02 326.45h1.8v1.6h-1.8zM559.02 307.06h1.8v1.6h-1.8zM559.02 320.38h1.8v1.6h-1.8zM559.02 315.46h1.8v1.6h-1.8zM559.02 305.24h1.8v1.6h-1.8zM559.02 308.12h1.8v1.6h-1.8zM559.02 314.00h1.8v1.6h-1.8zM559.02 318.08h1.8v1.6h-1.8zM559.02 312.70h1.8v1.6h-1.8zM559.02 313.16h1.8v1.6h-1.8zM559.02 317.71h1.8v1.6h-1.8zM559.02 320.59h1.8v1.6h-1.8zM559.02 305.67h1.8v1.6h-1.8zM559.02 311.02h1.8v1.6h-1.8zM559.02 319.05h1.8v1.6h-1.8zM559.02 316.50h1.8v1.6h-1.8zM559.02 306.73h1.8v1.6h-1.8zM565.46 303.95h1.8v1.6h-1.8zM565.46 332.70h1.8v1.6h-1.8zM565.46 303.95h1.8v1.6h-1.8zM565.46 325.38h1.8v1.6h-1.8zM565.46 315.34h1.8v1.6h-1.8zM565.46 317.75h1.8v1.6h-1.8zM565.46 314.02h1.8v1.6h-1.8zM565.46 323.05h1.8v1.6h-1.8zM565.46 323.91h1.8v1.6h-1.8zM565.46 326.13h1.8v1.6h-1.8zM565.46 308.24h1.8v1.6h-1.8zM565.46 314.84h1.8v1.6h-1.8zM565.46 322.28h1.8v1.6h-1.8zM565.46 315.73h1.8v1.6h-1.8zM565.46 316.65h1.8v1.6h-1.8zM565.46 327.94h1.8v1.6h-1.8zM565.46 317.53h1.8v1.6h-1.8zM565.46 307.88h1.8v1.6h-1.8zM571.90 288.95h1.8v1.6h-1.8zM571.90 336.45h1.8v1.6h-1.8zM571.90 331.49h1.8v1.6h-1.8zM571.90 319.37h1.8v1.6h-1.8zM571.90 312.91h1.8v1.6h-1.8zM571.90 317.09h1.8v1.6h-1.8zM571.90 318.16h1.8v1.6h-1.8zM571.90 311.58h1.8v1.6h-1.8zM571.90 320.09h1.8v1.6h-1.8zM571.90 310.13h1.8v1.6h-1.8zM571.90 319.51h1.8v1.6h-1.8zM571.90 336.45h1.8v1.6h-1.8zM571.90 308.94h1.8v1.6h-1.8zM571.90 288.95h1.8v1.6h-1.8zM571.90 329.31h1.8v1.6h-1.8zM571.90 316.90h1.8v1.6h-1.8zM571.90 304.36h1.8v1.6h-1.8zM571.90 316.36h1.8v1.6h-1.8z" fill="#000" fill-opacity="0.62"/>
<path d="M48.5 211V371.5H588.5" stroke="#1c1c1c" stroke-width="1" fill="none"/>
<path d="M57.60 371.5v-5 M186.40 371.5v-5 M315.20 371.5v-5 M444.00 371.5v-5 M572.80 371.5v-5 M48.5 243.75h5 M48.5 279.50h5 M48.5 315.25h5 M48.5 351.00h5" stroke="#1c1c1c" stroke-width="1" fill="none"/>
<text x="57.60" y="387.4" text-anchor="middle">0</text>
<text x="182.55" y="387.4" text-anchor="middle">2</text><text x="190.25" y="387.4" text-anchor="middle">0</text>
<text x="311.35" y="387.4" text-anchor="middle">4</text><text x="319.05" y="387.4" text-anchor="middle">0</text>
<text x="440.15" y="387.4" text-anchor="middle">6</text><text x="447.85" y="387.4" text-anchor="middle">0</text>
<text x="568.95" y="387.4" text-anchor="middle">8</text><text x="576.65" y="387.4" text-anchor="middle">0</text>
<text x="25.5" y="248.35" text-anchor="middle">0</text><text x="30.5" y="248.35" text-anchor="middle">.</text><text x="36.45" y="248.35" text-anchor="middle">5</text>
<text x="25.5" y="284.10" text-anchor="middle">0</text><text x="30.5" y="284.10" text-anchor="middle">.</text><text x="36.45" y="284.10" text-anchor="middle">0</text>
<rect x="12.8" y="315.35" width="7.3" height="1.2" fill="#000"/><text x="25.5" y="319.85" text-anchor="middle">0</text><text x="30.5" y="319.85" text-anchor="middle">.</text><text x="36.45" y="319.85" text-anchor="middle">5</text>
<rect x="12.8" y="351.10" width="7.3" height="1.2" fill="#000"/><text x="25.5" y="355.60" text-anchor="middle">1</text><text x="30.5" y="355.60" text-anchor="middle">.</text><text x="36.45" y="355.60" text-anchor="middle">0</text>
</svg></body></html>
